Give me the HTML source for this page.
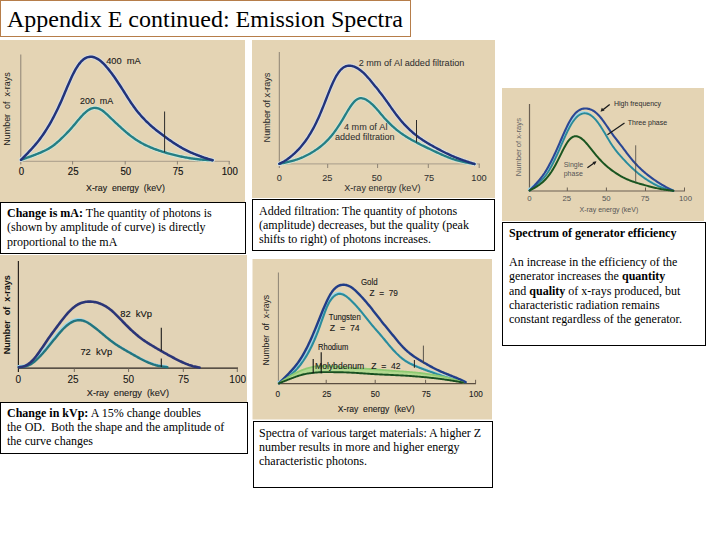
<!DOCTYPE html>
<html><head><meta charset="utf-8">
<style>
html,body{margin:0;padding:0;background:#fff;}
body{width:720px;height:540px;position:relative;overflow:hidden;font-family:"Liberation Serif",serif;}
#g{position:absolute;left:0;top:0;}
#g text{font-family:"Liberation Sans",sans-serif;}
.title{position:absolute;left:0;top:0;width:409px;height:35px;border:1px solid #b67d4a;background:#fff;}
.title span{position:absolute;left:6px;top:4px;font-size:24px;line-height:28px;color:#000;white-space:nowrap;}
.box{position:absolute;box-sizing:border-box;border:1.3px solid #000;background:#fff;font-size:12px;line-height:14.5px;color:#000;}
.box p{margin:0;position:absolute;left:6px;white-space:nowrap;}
</style></head><body>
<svg id="g" width="720" height="540" viewBox="0 0 720 540">
<rect x="0" y="40" width="245" height="162" fill="#e4d4b4"/>
<line x1="20.8" y1="54.5" x2="20.8" y2="161.5" stroke="#8c8274" stroke-width="1"/>
<line x1="20.8" y1="161.3" x2="229.5" y2="161.3" stroke="#a89c8a" stroke-width="1"/>
<line x1="20.8" y1="161" x2="20.8" y2="164.5" stroke="#8c8274" stroke-width="1"/>
<line x1="72.6" y1="161" x2="72.6" y2="164.5" stroke="#8c8274" stroke-width="1"/>
<line x1="125.2" y1="161" x2="125.2" y2="164.5" stroke="#8c8274" stroke-width="1"/>
<line x1="177.4" y1="161" x2="177.4" y2="164.5" stroke="#8c8274" stroke-width="1"/>
<line x1="229.2" y1="161" x2="229.2" y2="164.5" stroke="#8c8274" stroke-width="1"/>
<path d="M21.00,159.80 L22.00,159.45 L23.00,159.11 L24.00,158.76 L25.00,158.41 L26.00,158.06 L27.00,157.71 L28.00,157.35 L29.00,157.00 L30.00,156.64 L31.00,156.27 L32.00,155.91 L33.00,155.54 L34.00,155.16 L35.00,154.78 L36.00,154.40 L37.00,154.00 L38.00,153.60 L39.00,153.19 L40.00,152.78 L41.00,152.35 L42.00,151.91 L43.00,151.46 L44.00,151.00 L45.00,150.52 L46.00,150.02 L47.00,149.49 L48.00,148.94 L49.00,148.37 L50.00,147.76 L51.00,147.12 L52.00,146.44 L53.00,145.73 L54.00,144.98 L55.00,144.19 L56.00,143.38 L57.00,142.54 L58.00,141.67 L59.00,140.77 L60.00,139.85 L61.00,138.92 L62.00,137.96 L63.00,136.99 L64.00,136.00 L65.00,135.00 L66.00,133.98 L67.00,132.95 L68.00,131.89 L69.00,130.82 L70.00,129.73 L71.00,128.62 L72.00,127.48 L73.00,126.33 L74.00,125.15 L75.00,123.96 L76.00,122.75 L77.00,121.55 L78.00,120.35 L79.00,119.17 L80.00,118.00 L81.00,116.87 L82.00,115.77 L83.00,114.72 L84.00,113.72 L85.00,112.78 L86.00,111.90 L87.00,111.09 L88.00,110.36 L89.00,109.72 L90.00,109.16 L91.00,108.69 L92.00,108.33 L93.00,108.07 L94.00,107.92 L95.00,107.88 L96.00,107.94 L97.00,108.11 L98.00,108.38 L99.00,108.74 L100.00,109.20 L101.00,109.73 L102.00,110.35 L103.00,111.05 L104.00,111.82 L105.00,112.65 L106.00,113.54 L107.00,114.46 L108.00,115.40 L109.00,116.37 L110.00,117.33 L111.00,118.29 L112.00,119.25 L113.00,120.19 L114.00,121.14 L115.00,122.08 L116.00,123.01 L117.00,123.95 L118.00,124.88 L119.00,125.80 L120.00,126.72 L121.00,127.63 L122.00,128.54 L123.00,129.43 L124.00,130.32 L125.00,131.19 L126.00,132.05 L127.00,132.89 L128.00,133.72 L129.00,134.53 L130.00,135.32 L131.00,136.10 L132.00,136.85 L133.00,137.58 L134.00,138.30 L135.00,138.98 L136.00,139.65 L137.00,140.30 L138.00,140.93 L139.00,141.54 L140.00,142.13 L141.00,142.70 L142.00,143.26 L143.00,143.79 L144.00,144.32 L145.00,144.82 L146.00,145.31 L147.00,145.79 L148.00,146.25 L149.00,146.70 L150.00,147.13 L151.00,147.56 L152.00,147.97 L153.00,148.37 L154.00,148.76 L155.00,149.14 L156.00,149.50 L157.00,149.86 L158.00,150.21 L159.00,150.55 L160.00,150.89 L161.00,151.21 L162.00,151.53 L163.00,151.84 L164.00,152.15 L165.00,152.45 L166.00,152.74 L167.00,153.03 L168.00,153.32 L169.00,153.60 L170.00,153.87 L171.00,154.14 L172.00,154.40 L173.00,154.66 L174.00,154.91 L175.00,155.16 L176.00,155.40 L177.00,155.63 L178.00,155.86 L179.00,156.09 L180.00,156.31 L181.00,156.52 L182.00,156.73 L183.00,156.93 L184.00,157.13 L185.00,157.32 L186.00,157.51 L187.00,157.69 L188.00,157.86 L189.00,158.03 L190.00,158.20 L191.00,158.35 L192.00,158.51 L193.00,158.65 L194.00,158.79 L195.00,158.92 L196.00,159.04 L197.00,159.16 L198.00,159.27 L199.00,159.38 L200.00,159.47 L201.00,159.56 L202.00,159.64 L203.00,159.72 L204.00,159.78 L205.00,159.85 L206.00,159.90 L207.00,159.95 L208.00,160.00 L209.00,160.05 L210.00,160.09 L211.00,160.14 L212.00,160.18 L212.60,160.20" fill="none" stroke="#cfe6d8" stroke-width="4.2" stroke-linecap="round" stroke-linejoin="round" />
<path d="M21.00,159.80 L22.00,158.81 L23.00,157.82 L24.00,156.82 L25.00,155.82 L26.00,154.81 L27.00,153.79 L28.00,152.76 L29.00,151.72 L30.00,150.66 L31.00,149.59 L32.00,148.50 L33.00,147.38 L34.00,146.25 L35.00,145.09 L36.00,143.91 L37.00,142.70 L38.00,141.45 L39.00,140.18 L40.00,138.87 L41.00,137.52 L42.00,136.13 L43.00,134.71 L44.00,133.24 L45.00,131.73 L46.00,130.18 L47.00,128.59 L48.00,126.96 L49.00,125.28 L50.00,123.56 L51.00,121.79 L52.00,119.98 L53.00,118.13 L54.00,116.23 L55.00,114.28 L56.00,112.29 L57.00,110.25 L58.00,108.17 L59.00,106.05 L60.00,103.87 L61.00,101.65 L62.00,99.39 L63.00,97.08 L64.00,94.73 L65.00,92.36 L66.00,89.98 L67.00,87.60 L68.00,85.25 L69.00,82.92 L70.00,80.65 L71.00,78.44 L72.00,76.31 L73.00,74.27 L74.00,72.31 L75.00,70.46 L76.00,68.71 L77.00,67.07 L78.00,65.54 L79.00,64.14 L80.00,62.87 L81.00,61.73 L82.00,60.71 L83.00,59.82 L84.00,59.05 L85.00,58.40 L86.00,57.86 L87.00,57.43 L88.00,57.11 L89.00,56.89 L90.00,56.78 L91.00,56.76 L92.00,56.84 L93.00,57.01 L94.00,57.27 L95.00,57.61 L96.00,58.04 L97.00,58.55 L98.00,59.14 L99.00,59.80 L100.00,60.54 L101.00,61.34 L102.00,62.22 L103.00,63.16 L104.00,64.15 L105.00,65.20 L106.00,66.31 L107.00,67.46 L108.00,68.66 L109.00,69.90 L110.00,71.17 L111.00,72.48 L112.00,73.82 L113.00,75.19 L114.00,76.59 L115.00,78.02 L116.00,79.47 L117.00,80.94 L118.00,82.44 L119.00,83.96 L120.00,85.49 L121.00,87.04 L122.00,88.61 L123.00,90.19 L124.00,91.77 L125.00,93.36 L126.00,94.95 L127.00,96.53 L128.00,98.10 L129.00,99.65 L130.00,101.18 L131.00,102.69 L132.00,104.16 L133.00,105.59 L134.00,106.98 L135.00,108.33 L136.00,109.65 L137.00,110.93 L138.00,112.17 L139.00,113.38 L140.00,114.56 L141.00,115.71 L142.00,116.82 L143.00,117.91 L144.00,118.97 L145.00,120.00 L146.00,121.01 L147.00,122.00 L148.00,122.96 L149.00,123.89 L150.00,124.81 L151.00,125.71 L152.00,126.59 L153.00,127.45 L154.00,128.30 L155.00,129.12 L156.00,129.94 L157.00,130.74 L158.00,131.53 L159.00,132.31 L160.00,133.08 L161.00,133.84 L162.00,134.59 L163.00,135.33 L164.00,136.07 L165.00,136.80 L166.00,137.53 L167.00,138.25 L168.00,138.97 L169.00,139.68 L170.00,140.39 L171.00,141.08 L172.00,141.77 L173.00,142.45 L174.00,143.11 L175.00,143.77 L176.00,144.41 L177.00,145.04 L178.00,145.66 L179.00,146.27 L180.00,146.86 L181.00,147.44 L182.00,148.01 L183.00,148.57 L184.00,149.11 L185.00,149.63 L186.00,150.15 L187.00,150.65 L188.00,151.13 L189.00,151.61 L190.00,152.07 L191.00,152.52 L192.00,152.95 L193.00,153.38 L194.00,153.80 L195.00,154.21 L196.00,154.61 L197.00,155.01 L198.00,155.39 L199.00,155.77 L200.00,156.15 L201.00,156.51 L202.00,156.87 L203.00,157.22 L204.00,157.56 L205.00,157.89 L206.00,158.21 L207.00,158.52 L208.00,158.83 L209.00,159.14 L210.00,159.44 L211.00,159.73 L212.00,160.03 L212.60,160.20" fill="none" stroke="#d8dde0" stroke-width="4.4" stroke-linecap="round" stroke-linejoin="round" />
<path d="M21.00,159.80 L22.00,159.45 L23.00,159.11 L24.00,158.76 L25.00,158.41 L26.00,158.06 L27.00,157.71 L28.00,157.35 L29.00,157.00 L30.00,156.64 L31.00,156.27 L32.00,155.91 L33.00,155.54 L34.00,155.16 L35.00,154.78 L36.00,154.40 L37.00,154.00 L38.00,153.60 L39.00,153.19 L40.00,152.78 L41.00,152.35 L42.00,151.91 L43.00,151.46 L44.00,151.00 L45.00,150.52 L46.00,150.02 L47.00,149.49 L48.00,148.94 L49.00,148.37 L50.00,147.76 L51.00,147.12 L52.00,146.44 L53.00,145.73 L54.00,144.98 L55.00,144.19 L56.00,143.38 L57.00,142.54 L58.00,141.67 L59.00,140.77 L60.00,139.85 L61.00,138.92 L62.00,137.96 L63.00,136.99 L64.00,136.00 L65.00,135.00 L66.00,133.98 L67.00,132.95 L68.00,131.89 L69.00,130.82 L70.00,129.73 L71.00,128.62 L72.00,127.48 L73.00,126.33 L74.00,125.15 L75.00,123.96 L76.00,122.75 L77.00,121.55 L78.00,120.35 L79.00,119.17 L80.00,118.00 L81.00,116.87 L82.00,115.77 L83.00,114.72 L84.00,113.72 L85.00,112.78 L86.00,111.90 L87.00,111.09 L88.00,110.36 L89.00,109.72 L90.00,109.16 L91.00,108.69 L92.00,108.33 L93.00,108.07 L94.00,107.92 L95.00,107.88 L96.00,107.94 L97.00,108.11 L98.00,108.38 L99.00,108.74 L100.00,109.20 L101.00,109.73 L102.00,110.35 L103.00,111.05 L104.00,111.82 L105.00,112.65 L106.00,113.54 L107.00,114.46 L108.00,115.40 L109.00,116.37 L110.00,117.33 L111.00,118.29 L112.00,119.25 L113.00,120.19 L114.00,121.14 L115.00,122.08 L116.00,123.01 L117.00,123.95 L118.00,124.88 L119.00,125.80 L120.00,126.72 L121.00,127.63 L122.00,128.54 L123.00,129.43 L124.00,130.32 L125.00,131.19 L126.00,132.05 L127.00,132.89 L128.00,133.72 L129.00,134.53 L130.00,135.32 L131.00,136.10 L132.00,136.85 L133.00,137.58 L134.00,138.30 L135.00,138.98 L136.00,139.65 L137.00,140.30 L138.00,140.93 L139.00,141.54 L140.00,142.13 L141.00,142.70 L142.00,143.26 L143.00,143.79 L144.00,144.32 L145.00,144.82 L146.00,145.31 L147.00,145.79 L148.00,146.25 L149.00,146.70 L150.00,147.13 L151.00,147.56 L152.00,147.97 L153.00,148.37 L154.00,148.76 L155.00,149.14 L156.00,149.50 L157.00,149.86 L158.00,150.21 L159.00,150.55 L160.00,150.89 L161.00,151.21 L162.00,151.53 L163.00,151.84 L164.00,152.15 L165.00,152.45 L166.00,152.74 L167.00,153.03 L168.00,153.32 L169.00,153.60 L170.00,153.87 L171.00,154.14 L172.00,154.40 L173.00,154.66 L174.00,154.91 L175.00,155.16 L176.00,155.40 L177.00,155.63 L178.00,155.86 L179.00,156.09 L180.00,156.31 L181.00,156.52 L182.00,156.73 L183.00,156.93 L184.00,157.13 L185.00,157.32 L186.00,157.51 L187.00,157.69 L188.00,157.86 L189.00,158.03 L190.00,158.20 L191.00,158.35 L192.00,158.51 L193.00,158.65 L194.00,158.79 L195.00,158.92 L196.00,159.04 L197.00,159.16 L198.00,159.27 L199.00,159.38 L200.00,159.47 L201.00,159.56 L202.00,159.64 L203.00,159.72 L204.00,159.78 L205.00,159.85 L206.00,159.90 L207.00,159.95 L208.00,160.00 L209.00,160.05 L210.00,160.09 L211.00,160.14 L212.00,160.18 L212.60,160.20" fill="none" stroke="#257e84" stroke-width="2.4" stroke-linecap="round" stroke-linejoin="round" />
<path d="M21.00,159.80 L22.00,158.81 L23.00,157.82 L24.00,156.82 L25.00,155.82 L26.00,154.81 L27.00,153.79 L28.00,152.76 L29.00,151.72 L30.00,150.66 L31.00,149.59 L32.00,148.50 L33.00,147.38 L34.00,146.25 L35.00,145.09 L36.00,143.91 L37.00,142.70 L38.00,141.45 L39.00,140.18 L40.00,138.87 L41.00,137.52 L42.00,136.13 L43.00,134.71 L44.00,133.24 L45.00,131.73 L46.00,130.18 L47.00,128.59 L48.00,126.96 L49.00,125.28 L50.00,123.56 L51.00,121.79 L52.00,119.98 L53.00,118.13 L54.00,116.23 L55.00,114.28 L56.00,112.29 L57.00,110.25 L58.00,108.17 L59.00,106.05 L60.00,103.87 L61.00,101.65 L62.00,99.39 L63.00,97.08 L64.00,94.73 L65.00,92.36 L66.00,89.98 L67.00,87.60 L68.00,85.25 L69.00,82.92 L70.00,80.65 L71.00,78.44 L72.00,76.31 L73.00,74.27 L74.00,72.31 L75.00,70.46 L76.00,68.71 L77.00,67.07 L78.00,65.54 L79.00,64.14 L80.00,62.87 L81.00,61.73 L82.00,60.71 L83.00,59.82 L84.00,59.05 L85.00,58.40 L86.00,57.86 L87.00,57.43 L88.00,57.11 L89.00,56.89 L90.00,56.78 L91.00,56.76 L92.00,56.84 L93.00,57.01 L94.00,57.27 L95.00,57.61 L96.00,58.04 L97.00,58.55 L98.00,59.14 L99.00,59.80 L100.00,60.54 L101.00,61.34 L102.00,62.22 L103.00,63.16 L104.00,64.15 L105.00,65.20 L106.00,66.31 L107.00,67.46 L108.00,68.66 L109.00,69.90 L110.00,71.17 L111.00,72.48 L112.00,73.82 L113.00,75.19 L114.00,76.59 L115.00,78.02 L116.00,79.47 L117.00,80.94 L118.00,82.44 L119.00,83.96 L120.00,85.49 L121.00,87.04 L122.00,88.61 L123.00,90.19 L124.00,91.77 L125.00,93.36 L126.00,94.95 L127.00,96.53 L128.00,98.10 L129.00,99.65 L130.00,101.18 L131.00,102.69 L132.00,104.16 L133.00,105.59 L134.00,106.98 L135.00,108.33 L136.00,109.65 L137.00,110.93 L138.00,112.17 L139.00,113.38 L140.00,114.56 L141.00,115.71 L142.00,116.82 L143.00,117.91 L144.00,118.97 L145.00,120.00 L146.00,121.01 L147.00,122.00 L148.00,122.96 L149.00,123.89 L150.00,124.81 L151.00,125.71 L152.00,126.59 L153.00,127.45 L154.00,128.30 L155.00,129.12 L156.00,129.94 L157.00,130.74 L158.00,131.53 L159.00,132.31 L160.00,133.08 L161.00,133.84 L162.00,134.59 L163.00,135.33 L164.00,136.07 L165.00,136.80 L166.00,137.53 L167.00,138.25 L168.00,138.97 L169.00,139.68 L170.00,140.39 L171.00,141.08 L172.00,141.77 L173.00,142.45 L174.00,143.11 L175.00,143.77 L176.00,144.41 L177.00,145.04 L178.00,145.66 L179.00,146.27 L180.00,146.86 L181.00,147.44 L182.00,148.01 L183.00,148.57 L184.00,149.11 L185.00,149.63 L186.00,150.15 L187.00,150.65 L188.00,151.13 L189.00,151.61 L190.00,152.07 L191.00,152.52 L192.00,152.95 L193.00,153.38 L194.00,153.80 L195.00,154.21 L196.00,154.61 L197.00,155.01 L198.00,155.39 L199.00,155.77 L200.00,156.15 L201.00,156.51 L202.00,156.87 L203.00,157.22 L204.00,157.56 L205.00,157.89 L206.00,158.21 L207.00,158.52 L208.00,158.83 L209.00,159.14 L210.00,159.44 L211.00,159.73 L212.00,160.03 L212.60,160.20" fill="none" stroke="#22337a" stroke-width="2.5" stroke-linecap="round" stroke-linejoin="round" />
<line x1="164.6" y1="111.5" x2="164.6" y2="152.3" stroke="#2a2a2a" stroke-width="1"/>
<text transform="translate(106.2,63.8) scale(0.97,1)" x="0" y="0" font-size="9.6" text-anchor="start" fill="#1a1a1a" stroke="#1a1a1a" stroke-width="0.12" >400&#160;&#160;mA</text>
<text transform="translate(80,103.8) scale(0.97,1)" x="0" y="0" font-size="9.2" text-anchor="start" fill="#1a1a1a" stroke="#1a1a1a" stroke-width="0.12" >200&#160;&#160;mA</text>
<text transform="translate(21.400000000000002,175.0) scale(0.93,1)" x="0" y="0" font-size="10.4" text-anchor="middle" fill="#111" stroke="#111" stroke-width="0.15" >0</text>
<text transform="translate(73.19999999999999,175.0) scale(0.93,1)" x="0" y="0" font-size="10.4" text-anchor="middle" fill="#111" stroke="#111" stroke-width="0.15" >25</text>
<text transform="translate(125.8,175.0) scale(0.93,1)" x="0" y="0" font-size="10.4" text-anchor="middle" fill="#111" stroke="#111" stroke-width="0.15" >50</text>
<text transform="translate(178.0,175.0) scale(0.93,1)" x="0" y="0" font-size="10.4" text-anchor="middle" fill="#111" stroke="#111" stroke-width="0.15" >75</text>
<text transform="translate(229.79999999999998,175.0) scale(0.93,1)" x="0" y="0" font-size="10.4" text-anchor="middle" fill="#111" stroke="#111" stroke-width="0.15" >100</text>
<text transform="translate(86,191.3) scale(0.96,1)" x="0" y="0" font-size="9.2" text-anchor="start" fill="#1a1a1a" stroke="#1a1a1a" stroke-width="0.12" >X-ray&#160;&#160;energy&#160;&#160;(keV)</text>
<text transform="translate(6.8,109) rotate(-90) scale(0.97,1)" x="0" y="0" font-size="9.2" text-anchor="middle" dominant-baseline="central" fill="#1a1a1a"  >Number&#160;&#160;of&#160;&#160;x-rays</text>
<rect x="252" y="40" width="243" height="158" fill="#e4d4b4"/>
<line x1="279.3" y1="52" x2="279.3" y2="164" stroke="#8c8274" stroke-width="1"/>
<line x1="279.3" y1="163.9" x2="480" y2="163.9" stroke="#a89c8a" stroke-width="1"/>
<line x1="279.3" y1="164" x2="279.3" y2="168" stroke="#8c8274" stroke-width="1"/>
<line x1="327.7" y1="164" x2="327.7" y2="168" stroke="#8c8274" stroke-width="1"/>
<line x1="377.6" y1="164" x2="377.6" y2="168" stroke="#8c8274" stroke-width="1"/>
<line x1="428.3" y1="164" x2="428.3" y2="168" stroke="#8c8274" stroke-width="1"/>
<line x1="479.2" y1="164" x2="479.2" y2="168" stroke="#8c8274" stroke-width="1"/>
<path d="M279.30,163.80 L280.30,163.61 L281.30,163.42 L282.30,163.22 L283.30,163.03 L284.30,162.82 L285.30,162.61 L286.30,162.40 L287.30,162.17 L288.30,161.94 L289.30,161.70 L290.30,161.44 L291.30,161.17 L292.30,160.89 L293.30,160.60 L294.30,160.30 L295.30,159.99 L296.30,159.66 L297.30,159.33 L298.30,158.97 L299.30,158.61 L300.30,158.22 L301.30,157.82 L302.30,157.40 L303.30,156.97 L304.30,156.51 L305.30,156.04 L306.30,155.55 L307.30,155.04 L308.30,154.52 L309.30,153.97 L310.30,153.41 L311.30,152.83 L312.30,152.23 L313.30,151.61 L314.30,150.98 L315.30,150.32 L316.30,149.65 L317.30,148.95 L318.30,148.24 L319.30,147.50 L320.30,146.73 L321.30,145.93 L322.30,145.10 L323.30,144.24 L324.30,143.34 L325.30,142.40 L326.30,141.43 L327.30,140.42 L328.30,139.37 L329.30,138.27 L330.30,137.13 L331.30,135.95 L332.30,134.73 L333.30,133.47 L334.30,132.15 L335.30,130.80 L336.30,129.39 L337.30,127.95 L338.30,126.45 L339.30,124.92 L340.30,123.34 L341.30,121.73 L342.30,120.07 L343.30,118.38 L344.30,116.67 L345.30,114.94 L346.30,113.23 L347.30,111.53 L348.30,109.88 L349.30,108.27 L350.30,106.74 L351.30,105.29 L352.30,103.95 L353.30,102.72 L354.30,101.62 L355.30,100.67 L356.30,99.87 L357.30,99.23 L358.30,98.74 L359.30,98.40 L360.30,98.22 L361.30,98.18 L362.30,98.28 L363.30,98.51 L364.30,98.85 L365.30,99.30 L366.30,99.83 L367.30,100.45 L368.30,101.14 L369.30,101.89 L370.30,102.69 L371.30,103.53 L372.30,104.43 L373.30,105.38 L374.30,106.38 L375.30,107.44 L376.30,108.54 L377.30,109.68 L378.30,110.84 L379.30,112.03 L380.30,113.23 L381.30,114.42 L382.30,115.60 L383.30,116.76 L384.30,117.90 L385.30,119.01 L386.30,120.09 L387.30,121.14 L388.30,122.17 L389.30,123.18 L390.30,124.16 L391.30,125.12 L392.30,126.05 L393.30,126.95 L394.30,127.83 L395.30,128.69 L396.30,129.53 L397.30,130.34 L398.30,131.12 L399.30,131.89 L400.30,132.63 L401.30,133.35 L402.30,134.05 L403.30,134.73 L404.30,135.40 L405.30,136.05 L406.30,136.68 L407.30,137.30 L408.30,137.90 L409.30,138.49 L410.30,139.07 L411.30,139.64 L412.30,140.19 L413.30,140.74 L414.30,141.28 L415.30,141.81 L416.30,142.34 L417.30,142.86 L418.30,143.38 L419.30,143.89 L420.30,144.40 L421.30,144.91 L422.30,145.41 L423.30,145.90 L424.30,146.40 L425.30,146.89 L426.30,147.38 L427.30,147.86 L428.30,148.34 L429.30,148.82 L430.30,149.30 L431.30,149.77 L432.30,150.25 L433.30,150.72 L434.30,151.19 L435.30,151.66 L436.30,152.13 L437.30,152.59 L438.30,153.05 L439.30,153.51 L440.30,153.96 L441.30,154.41 L442.30,154.85 L443.30,155.29 L444.30,155.72 L445.30,156.14 L446.30,156.55 L447.30,156.96 L448.30,157.36 L449.30,157.74 L450.30,158.12 L451.30,158.48 L452.30,158.84 L453.30,159.18 L454.30,159.51 L455.30,159.82 L456.30,160.12 L457.30,160.41 L458.30,160.68 L459.30,160.95 L460.30,161.20 L461.30,161.44 L462.30,161.67 L463.30,161.89 L464.30,162.11 L465.30,162.32 L466.30,162.52 L467.30,162.71 L468.30,162.90 L469.30,163.09 L470.30,163.27 L471.30,163.44 L472.30,163.62 L473.30,163.79 L474.30,163.97 L474.50,164.00" fill="none" stroke="#cfe6d8" stroke-width="4.0" stroke-linecap="round" stroke-linejoin="round" />
<path d="M279.30,163.81 L280.30,163.31 L281.30,162.81 L282.30,162.29 L283.30,161.75 L284.30,161.18 L285.30,160.58 L286.30,159.94 L287.30,159.26 L288.30,158.53 L289.30,157.78 L290.30,156.99 L291.30,156.17 L292.30,155.33 L293.30,154.46 L294.30,153.57 L295.30,152.64 L296.30,151.69 L297.30,150.69 L298.30,149.66 L299.30,148.58 L300.30,147.46 L301.30,146.30 L302.30,145.09 L303.30,143.83 L304.30,142.53 L305.30,141.18 L306.30,139.77 L307.30,138.31 L308.30,136.80 L309.30,135.23 L310.30,133.61 L311.30,131.92 L312.30,130.16 L313.30,128.34 L314.30,126.45 L315.30,124.49 L316.30,122.46 L317.30,120.35 L318.30,118.17 L319.30,115.93 L320.30,113.62 L321.30,111.25 L322.30,108.82 L323.30,106.34 L324.30,103.83 L325.30,101.28 L326.30,98.72 L327.30,96.15 L328.30,93.59 L329.30,91.08 L330.30,88.62 L331.30,86.24 L332.30,83.95 L333.30,81.77 L334.30,79.70 L335.30,77.76 L336.30,75.95 L337.30,74.30 L338.30,72.80 L339.30,71.46 L340.30,70.27 L341.30,69.23 L342.30,68.34 L343.30,67.60 L344.30,66.98 L345.30,66.50 L346.30,66.13 L347.30,65.87 L348.30,65.72 L349.30,65.66 L350.30,65.70 L351.30,65.83 L352.30,66.03 L353.30,66.32 L354.30,66.67 L355.30,67.09 L356.30,67.58 L357.30,68.14 L358.30,68.75 L359.30,69.43 L360.30,70.17 L361.30,70.97 L362.30,71.82 L363.30,72.73 L364.30,73.69 L365.30,74.69 L366.30,75.73 L367.30,76.81 L368.30,77.93 L369.30,79.08 L370.30,80.26 L371.30,81.46 L372.30,82.68 L373.30,83.90 L374.30,85.14 L375.30,86.38 L376.30,87.62 L377.30,88.87 L378.30,90.12 L379.30,91.38 L380.30,92.66 L381.30,93.95 L382.30,95.27 L383.30,96.60 L384.30,97.96 L385.30,99.34 L386.30,100.74 L387.30,102.15 L388.30,103.56 L389.30,104.98 L390.30,106.40 L391.30,107.82 L392.30,109.23 L393.30,110.62 L394.30,112.00 L395.30,113.37 L396.30,114.70 L397.30,116.02 L398.30,117.30 L399.30,118.54 L400.30,119.76 L401.30,120.95 L402.30,122.10 L403.30,123.23 L404.30,124.33 L405.30,125.39 L406.30,126.43 L407.30,127.45 L408.30,128.43 L409.30,129.39 L410.30,130.32 L411.30,131.23 L412.30,132.12 L413.30,132.98 L414.30,133.81 L415.30,134.63 L416.30,135.42 L417.30,136.19 L418.30,136.94 L419.30,137.67 L420.30,138.38 L421.30,139.08 L422.30,139.75 L423.30,140.41 L424.30,141.06 L425.30,141.69 L426.30,142.31 L427.30,142.92 L428.30,143.52 L429.30,144.11 L430.30,144.69 L431.30,145.26 L432.30,145.83 L433.30,146.39 L434.30,146.94 L435.30,147.49 L436.30,148.04 L437.30,148.58 L438.30,149.12 L439.30,149.65 L440.30,150.17 L441.30,150.69 L442.30,151.21 L443.30,151.72 L444.30,152.22 L445.30,152.72 L446.30,153.21 L447.30,153.69 L448.30,154.16 L449.30,154.63 L450.30,155.09 L451.30,155.54 L452.30,155.98 L453.30,156.41 L454.30,156.84 L455.30,157.26 L456.30,157.66 L457.30,158.06 L458.30,158.45 L459.30,158.83 L460.30,159.21 L461.30,159.57 L462.30,159.93 L463.30,160.29 L464.30,160.64 L465.30,160.98 L466.30,161.32 L467.30,161.66 L468.30,161.99 L469.30,162.32 L470.30,162.65 L471.30,162.97 L472.30,163.29 L473.30,163.61 L474.30,163.94 L474.50,164.00" fill="none" stroke="#d8dde0" stroke-width="4.2" stroke-linecap="round" stroke-linejoin="round" />
<path d="M279.30,163.80 L280.30,163.61 L281.30,163.42 L282.30,163.22 L283.30,163.03 L284.30,162.82 L285.30,162.61 L286.30,162.40 L287.30,162.17 L288.30,161.94 L289.30,161.70 L290.30,161.44 L291.30,161.17 L292.30,160.89 L293.30,160.60 L294.30,160.30 L295.30,159.99 L296.30,159.66 L297.30,159.33 L298.30,158.97 L299.30,158.61 L300.30,158.22 L301.30,157.82 L302.30,157.40 L303.30,156.97 L304.30,156.51 L305.30,156.04 L306.30,155.55 L307.30,155.04 L308.30,154.52 L309.30,153.97 L310.30,153.41 L311.30,152.83 L312.30,152.23 L313.30,151.61 L314.30,150.98 L315.30,150.32 L316.30,149.65 L317.30,148.95 L318.30,148.24 L319.30,147.50 L320.30,146.73 L321.30,145.93 L322.30,145.10 L323.30,144.24 L324.30,143.34 L325.30,142.40 L326.30,141.43 L327.30,140.42 L328.30,139.37 L329.30,138.27 L330.30,137.13 L331.30,135.95 L332.30,134.73 L333.30,133.47 L334.30,132.15 L335.30,130.80 L336.30,129.39 L337.30,127.95 L338.30,126.45 L339.30,124.92 L340.30,123.34 L341.30,121.73 L342.30,120.07 L343.30,118.38 L344.30,116.67 L345.30,114.94 L346.30,113.23 L347.30,111.53 L348.30,109.88 L349.30,108.27 L350.30,106.74 L351.30,105.29 L352.30,103.95 L353.30,102.72 L354.30,101.62 L355.30,100.67 L356.30,99.87 L357.30,99.23 L358.30,98.74 L359.30,98.40 L360.30,98.22 L361.30,98.18 L362.30,98.28 L363.30,98.51 L364.30,98.85 L365.30,99.30 L366.30,99.83 L367.30,100.45 L368.30,101.14 L369.30,101.89 L370.30,102.69 L371.30,103.53 L372.30,104.43 L373.30,105.38 L374.30,106.38 L375.30,107.44 L376.30,108.54 L377.30,109.68 L378.30,110.84 L379.30,112.03 L380.30,113.23 L381.30,114.42 L382.30,115.60 L383.30,116.76 L384.30,117.90 L385.30,119.01 L386.30,120.09 L387.30,121.14 L388.30,122.17 L389.30,123.18 L390.30,124.16 L391.30,125.12 L392.30,126.05 L393.30,126.95 L394.30,127.83 L395.30,128.69 L396.30,129.53 L397.30,130.34 L398.30,131.12 L399.30,131.89 L400.30,132.63 L401.30,133.35 L402.30,134.05 L403.30,134.73 L404.30,135.40 L405.30,136.05 L406.30,136.68 L407.30,137.30 L408.30,137.90 L409.30,138.49 L410.30,139.07 L411.30,139.64 L412.30,140.19 L413.30,140.74 L414.30,141.28 L415.30,141.81 L416.30,142.34 L417.30,142.86 L418.30,143.38 L419.30,143.89 L420.30,144.40 L421.30,144.91 L422.30,145.41 L423.30,145.90 L424.30,146.40 L425.30,146.89 L426.30,147.38 L427.30,147.86 L428.30,148.34 L429.30,148.82 L430.30,149.30 L431.30,149.77 L432.30,150.25 L433.30,150.72 L434.30,151.19 L435.30,151.66 L436.30,152.13 L437.30,152.59 L438.30,153.05 L439.30,153.51 L440.30,153.96 L441.30,154.41 L442.30,154.85 L443.30,155.29 L444.30,155.72 L445.30,156.14 L446.30,156.55 L447.30,156.96 L448.30,157.36 L449.30,157.74 L450.30,158.12 L451.30,158.48 L452.30,158.84 L453.30,159.18 L454.30,159.51 L455.30,159.82 L456.30,160.12 L457.30,160.41 L458.30,160.68 L459.30,160.95 L460.30,161.20 L461.30,161.44 L462.30,161.67 L463.30,161.89 L464.30,162.11 L465.30,162.32 L466.30,162.52 L467.30,162.71 L468.30,162.90 L469.30,163.09 L470.30,163.27 L471.30,163.44 L472.30,163.62 L473.30,163.79 L474.30,163.97 L474.50,164.00" fill="none" stroke="#257e84" stroke-width="2.3" stroke-linecap="round" stroke-linejoin="round" />
<path d="M279.30,163.81 L280.30,163.31 L281.30,162.81 L282.30,162.29 L283.30,161.75 L284.30,161.18 L285.30,160.58 L286.30,159.94 L287.30,159.26 L288.30,158.53 L289.30,157.78 L290.30,156.99 L291.30,156.17 L292.30,155.33 L293.30,154.46 L294.30,153.57 L295.30,152.64 L296.30,151.69 L297.30,150.69 L298.30,149.66 L299.30,148.58 L300.30,147.46 L301.30,146.30 L302.30,145.09 L303.30,143.83 L304.30,142.53 L305.30,141.18 L306.30,139.77 L307.30,138.31 L308.30,136.80 L309.30,135.23 L310.30,133.61 L311.30,131.92 L312.30,130.16 L313.30,128.34 L314.30,126.45 L315.30,124.49 L316.30,122.46 L317.30,120.35 L318.30,118.17 L319.30,115.93 L320.30,113.62 L321.30,111.25 L322.30,108.82 L323.30,106.34 L324.30,103.83 L325.30,101.28 L326.30,98.72 L327.30,96.15 L328.30,93.59 L329.30,91.08 L330.30,88.62 L331.30,86.24 L332.30,83.95 L333.30,81.77 L334.30,79.70 L335.30,77.76 L336.30,75.95 L337.30,74.30 L338.30,72.80 L339.30,71.46 L340.30,70.27 L341.30,69.23 L342.30,68.34 L343.30,67.60 L344.30,66.98 L345.30,66.50 L346.30,66.13 L347.30,65.87 L348.30,65.72 L349.30,65.66 L350.30,65.70 L351.30,65.83 L352.30,66.03 L353.30,66.32 L354.30,66.67 L355.30,67.09 L356.30,67.58 L357.30,68.14 L358.30,68.75 L359.30,69.43 L360.30,70.17 L361.30,70.97 L362.30,71.82 L363.30,72.73 L364.30,73.69 L365.30,74.69 L366.30,75.73 L367.30,76.81 L368.30,77.93 L369.30,79.08 L370.30,80.26 L371.30,81.46 L372.30,82.68 L373.30,83.90 L374.30,85.14 L375.30,86.38 L376.30,87.62 L377.30,88.87 L378.30,90.12 L379.30,91.38 L380.30,92.66 L381.30,93.95 L382.30,95.27 L383.30,96.60 L384.30,97.96 L385.30,99.34 L386.30,100.74 L387.30,102.15 L388.30,103.56 L389.30,104.98 L390.30,106.40 L391.30,107.82 L392.30,109.23 L393.30,110.62 L394.30,112.00 L395.30,113.37 L396.30,114.70 L397.30,116.02 L398.30,117.30 L399.30,118.54 L400.30,119.76 L401.30,120.95 L402.30,122.10 L403.30,123.23 L404.30,124.33 L405.30,125.39 L406.30,126.43 L407.30,127.45 L408.30,128.43 L409.30,129.39 L410.30,130.32 L411.30,131.23 L412.30,132.12 L413.30,132.98 L414.30,133.81 L415.30,134.63 L416.30,135.42 L417.30,136.19 L418.30,136.94 L419.30,137.67 L420.30,138.38 L421.30,139.08 L422.30,139.75 L423.30,140.41 L424.30,141.06 L425.30,141.69 L426.30,142.31 L427.30,142.92 L428.30,143.52 L429.30,144.11 L430.30,144.69 L431.30,145.26 L432.30,145.83 L433.30,146.39 L434.30,146.94 L435.30,147.49 L436.30,148.04 L437.30,148.58 L438.30,149.12 L439.30,149.65 L440.30,150.17 L441.30,150.69 L442.30,151.21 L443.30,151.72 L444.30,152.22 L445.30,152.72 L446.30,153.21 L447.30,153.69 L448.30,154.16 L449.30,154.63 L450.30,155.09 L451.30,155.54 L452.30,155.98 L453.30,156.41 L454.30,156.84 L455.30,157.26 L456.30,157.66 L457.30,158.06 L458.30,158.45 L459.30,158.83 L460.30,159.21 L461.30,159.57 L462.30,159.93 L463.30,160.29 L464.30,160.64 L465.30,160.98 L466.30,161.32 L467.30,161.66 L468.30,161.99 L469.30,162.32 L470.30,162.65 L471.30,162.97 L472.30,163.29 L473.30,163.61 L474.30,163.94 L474.50,164.00" fill="none" stroke="#22337a" stroke-width="2.4" stroke-linecap="round" stroke-linejoin="round" />
<line x1="416.5" y1="120" x2="416.5" y2="142.4" stroke="#2a2a2a" stroke-width="1"/>
<text transform="translate(358.7,66.4) scale(1.0,1)" x="0" y="0" font-size="9.1" text-anchor="start" fill="#303030" stroke="#303030" stroke-width="0.05" >2&#160;mm&#160;of&#160;Al&#160;added&#160;filtration</text>
<text transform="translate(344,129.8) scale(1.0,1)" x="0" y="0" font-size="9.1" text-anchor="start" fill="#303030" stroke="#303030" stroke-width="0.05" >4&#160;mm&#160;of&#160;Al</text>
<text transform="translate(335,140.4) scale(1.0,1)" x="0" y="0" font-size="9.1" text-anchor="start" fill="#303030" stroke="#303030" stroke-width="0.05" >added&#160;filtration</text>
<text transform="translate(279.4,180.8) scale(1.0,1)" x="0" y="0" font-size="9.2" text-anchor="middle" fill="#303030" stroke="#303030" stroke-width="0.05" >0</text>
<text transform="translate(327.3,180.8) scale(1.0,1)" x="0" y="0" font-size="9.2" text-anchor="middle" fill="#303030" stroke="#303030" stroke-width="0.05" >25</text>
<text transform="translate(376.8,180.8) scale(1.0,1)" x="0" y="0" font-size="9.2" text-anchor="middle" fill="#303030" stroke="#303030" stroke-width="0.05" >50</text>
<text transform="translate(429,180.8) scale(1.0,1)" x="0" y="0" font-size="9.2" text-anchor="middle" fill="#303030" stroke="#303030" stroke-width="0.05" >75</text>
<text transform="translate(479,180.8) scale(1.0,1)" x="0" y="0" font-size="9.2" text-anchor="middle" fill="#303030" stroke="#303030" stroke-width="0.05" >100</text>
<text transform="translate(344.2,191.3) scale(1.0,1)" x="0" y="0" font-size="9.1" text-anchor="start" fill="#303030" stroke="#303030" stroke-width="0.05" >X-ray&#160;energy&#160;(keV)</text>
<text transform="translate(266.8,107.5) rotate(-90) scale(1.0,1)" x="0" y="0" font-size="9.1" text-anchor="middle" dominant-baseline="central" fill="#303030" stroke="#303030" stroke-width="0.05" >Number&#160;of&#160;x-rays</text>
<rect x="502" y="88" width="202" height="133" fill="#e4d4b4"/>
<line x1="529.5" y1="104" x2="529.5" y2="191" stroke="#6a5f52" stroke-width="1.2"/>
<line x1="529.5" y1="191" x2="685" y2="191" stroke="#6a5f52" stroke-width="1.2"/>
<line x1="567.3" y1="187.5" x2="567.3" y2="191" stroke="#6a5f52" stroke-width="1"/>
<line x1="606.4" y1="187.5" x2="606.4" y2="191" stroke="#6a5f52" stroke-width="1"/>
<line x1="645.5" y1="187.5" x2="645.5" y2="191" stroke="#6a5f52" stroke-width="1"/>
<line x1="684.5" y1="187.5" x2="684.5" y2="191" stroke="#6a5f52" stroke-width="1"/>
<path d="M528.60,189.20 L529.60,188.44 L530.60,187.67 L531.60,186.89 L532.60,186.10 L533.60,185.30 L534.60,184.47 L535.60,183.63 L536.60,182.76 L537.60,181.86 L538.60,180.93 L539.60,179.95 L540.60,178.94 L541.60,177.88 L542.60,176.75 L543.60,175.56 L544.60,174.29 L545.60,172.92 L546.60,171.46 L547.60,169.90 L548.60,168.24 L549.60,166.49 L550.60,164.66 L551.60,162.75 L552.60,160.76 L553.60,158.72 L554.60,156.61 L555.60,154.45 L556.60,152.24 L557.60,150.00 L558.60,147.73 L559.60,145.43 L560.60,143.12 L561.60,140.83 L562.60,138.55 L563.60,136.30 L564.60,134.10 L565.60,131.97 L566.60,129.90 L567.60,127.91 L568.60,126.01 L569.60,124.22 L570.60,122.53 L571.60,120.96 L572.60,119.51 L573.60,118.19 L574.60,116.99 L575.60,115.92 L576.60,114.99 L577.60,114.19 L578.60,113.52 L579.60,112.98 L580.60,112.56 L581.60,112.26 L582.60,112.08 L583.60,112.01 L584.60,112.05 L585.60,112.20 L586.60,112.46 L587.60,112.83 L588.60,113.30 L589.60,113.89 L590.60,114.58 L591.60,115.38 L592.60,116.28 L593.60,117.28 L594.60,118.38 L595.60,119.56 L596.60,120.83 L597.60,122.18 L598.60,123.60 L599.60,125.09 L600.60,126.64 L601.60,128.23 L602.60,129.87 L603.60,131.54 L604.60,133.23 L605.60,134.93 L606.60,136.63 L607.60,138.32 L608.60,139.98 L609.60,141.60 L610.60,143.16 L611.60,144.66 L612.60,146.10 L613.60,147.48 L614.60,148.80 L615.60,150.07 L616.60,151.29 L617.60,152.48 L618.60,153.63 L619.60,154.77 L620.60,155.89 L621.60,156.99 L622.60,158.08 L623.60,159.15 L624.60,160.21 L625.60,161.25 L626.60,162.27 L627.60,163.28 L628.60,164.28 L629.60,165.26 L630.60,166.22 L631.60,167.16 L632.60,168.09 L633.60,168.99 L634.60,169.88 L635.60,170.74 L636.60,171.57 L637.60,172.39 L638.60,173.18 L639.60,173.96 L640.60,174.71 L641.60,175.46 L642.60,176.18 L643.60,176.89 L644.60,177.59 L645.60,178.26 L646.60,178.92 L647.60,179.57 L648.60,180.19 L649.60,180.80 L650.60,181.39 L651.60,181.96 L652.60,182.51 L653.60,183.04 L654.60,183.55 L655.60,184.04 L656.60,184.51 L657.60,184.96 L658.60,185.39 L659.60,185.79 L660.60,186.18 L661.60,186.55 L662.60,186.90 L663.60,187.23 L664.60,187.54 L665.60,187.84 L666.60,188.11 L667.60,188.38 L668.60,188.63 L669.60,188.87 L670.60,189.11 L671.60,189.34 L672.30,189.50" fill="none" stroke="#9ad6ec" stroke-width="1.6" stroke-linecap="round" stroke-linejoin="round" />
<path d="M529.60,190.50 L530.60,189.74 L531.60,188.97 L532.60,188.19 L533.60,187.40 L534.60,186.60 L535.60,185.77 L536.60,184.93 L537.60,184.06 L538.60,183.16 L539.60,182.23 L540.60,181.25 L541.60,180.24 L542.60,179.18 L543.60,178.05 L544.60,176.86 L545.60,175.59 L546.60,174.22 L547.60,172.76 L548.60,171.20 L549.60,169.54 L550.60,167.79 L551.60,165.96 L552.60,164.05 L553.60,162.06 L554.60,160.02 L555.60,157.91 L556.60,155.75 L557.60,153.54 L558.60,151.30 L559.60,149.03 L560.60,146.73 L561.60,144.42 L562.60,142.13 L563.60,139.85 L564.60,137.60 L565.60,135.40 L566.60,133.27 L567.60,131.20 L568.60,129.21 L569.60,127.31 L570.60,125.52 L571.60,123.83 L572.60,122.26 L573.60,120.81 L574.60,119.49 L575.60,118.29 L576.60,117.22 L577.60,116.29 L578.60,115.49 L579.60,114.82 L580.60,114.28 L581.60,113.86 L582.60,113.56 L583.60,113.38 L584.60,113.31 L585.60,113.35 L586.60,113.50 L587.60,113.76 L588.60,114.13 L589.60,114.60 L590.60,115.19 L591.60,115.88 L592.60,116.68 L593.60,117.58 L594.60,118.58 L595.60,119.68 L596.60,120.86 L597.60,122.13 L598.60,123.48 L599.60,124.90 L600.60,126.39 L601.60,127.94 L602.60,129.53 L603.60,131.17 L604.60,132.84 L605.60,134.53 L606.60,136.23 L607.60,137.93 L608.60,139.62 L609.60,141.28 L610.60,142.90 L611.60,144.46 L612.60,145.96 L613.60,147.40 L614.60,148.78 L615.60,150.10 L616.60,151.37 L617.60,152.59 L618.60,153.78 L619.60,154.93 L620.60,156.07 L621.60,157.19 L622.60,158.29 L623.60,159.38 L624.60,160.45 L625.60,161.51 L626.60,162.55 L627.60,163.57 L628.60,164.58 L629.60,165.58 L630.60,166.56 L631.60,167.52 L632.60,168.46 L633.60,169.39 L634.60,170.29 L635.60,171.18 L636.60,172.04 L637.60,172.87 L638.60,173.69 L639.60,174.48 L640.60,175.26 L641.60,176.01 L642.60,176.76 L643.60,177.48 L644.60,178.19 L645.60,178.89 L646.60,179.56 L647.60,180.22 L648.60,180.87 L649.60,181.49 L650.60,182.10 L651.60,182.69 L652.60,183.26 L653.60,183.81 L654.60,184.34 L655.60,184.85 L656.60,185.34 L657.60,185.81 L658.60,186.26 L659.60,186.69 L660.60,187.09 L661.60,187.48 L662.60,187.85 L663.60,188.20 L664.60,188.53 L665.60,188.84 L666.60,189.14 L667.60,189.41 L668.60,189.68 L669.60,189.93 L670.60,190.17 L671.60,190.41 L672.60,190.64 L673.30,190.80" fill="none" stroke="#2b8a98" stroke-width="1.9" stroke-linecap="round" stroke-linejoin="round" />
<path d="M529.60,190.50 L530.60,189.49 L531.60,188.47 L532.60,187.45 L533.60,186.41 L534.60,185.36 L535.60,184.29 L536.60,183.20 L537.60,182.07 L538.60,180.92 L539.60,179.73 L540.60,178.50 L541.60,177.22 L542.60,175.88 L543.60,174.47 L544.60,172.98 L545.60,171.41 L546.60,169.75 L547.60,168.03 L548.60,166.23 L549.60,164.37 L550.60,162.45 L551.60,160.48 L552.60,158.45 L553.60,156.37 L554.60,154.25 L555.60,152.08 L556.60,149.87 L557.60,147.63 L558.60,145.36 L559.60,143.07 L560.60,140.77 L561.60,138.47 L562.60,136.17 L563.60,133.90 L564.60,131.65 L565.60,129.46 L566.60,127.33 L567.60,125.29 L568.60,123.34 L569.60,121.50 L570.60,119.77 L571.60,118.16 L572.60,116.68 L573.60,115.33 L574.60,114.11 L575.60,113.02 L576.60,112.07 L577.60,111.24 L578.60,110.53 L579.60,109.93 L580.60,109.45 L581.60,109.07 L582.60,108.78 L583.60,108.59 L584.60,108.49 L585.60,108.47 L586.60,108.53 L587.60,108.66 L588.60,108.85 L589.60,109.13 L590.60,109.47 L591.60,109.90 L592.60,110.40 L593.60,110.99 L594.60,111.67 L595.60,112.43 L596.60,113.28 L597.60,114.22 L598.60,115.23 L599.60,116.33 L600.60,117.49 L601.60,118.73 L602.60,120.04 L603.60,121.40 L604.60,122.81 L605.60,124.26 L606.60,125.73 L607.60,127.20 L608.60,128.68 L609.60,130.14 L610.60,131.58 L611.60,133.00 L612.60,134.39 L613.60,135.76 L614.60,137.11 L615.60,138.43 L616.60,139.73 L617.60,141.01 L618.60,142.27 L619.60,143.54 L620.60,144.82 L621.60,146.12 L622.60,147.44 L623.60,148.77 L624.60,150.11 L625.60,151.45 L626.60,152.79 L627.60,154.10 L628.60,155.40 L629.60,156.67 L630.60,157.92 L631.60,159.14 L632.60,160.34 L633.60,161.51 L634.60,162.64 L635.60,163.75 L636.60,164.82 L637.60,165.87 L638.60,166.88 L639.60,167.86 L640.60,168.82 L641.60,169.75 L642.60,170.65 L643.60,171.53 L644.60,172.39 L645.60,173.23 L646.60,174.05 L647.60,174.85 L648.60,175.64 L649.60,176.40 L650.60,177.15 L651.60,177.89 L652.60,178.61 L653.60,179.32 L654.60,180.01 L655.60,180.69 L656.60,181.36 L657.60,182.02 L658.60,182.66 L659.60,183.30 L660.60,183.92 L661.60,184.53 L662.60,185.12 L663.60,185.71 L664.60,186.28 L665.60,186.84 L666.60,187.38 L667.60,187.92 L668.60,188.44 L669.60,188.95 L670.60,189.46 L671.60,189.96 L672.60,190.46 L673.30,190.80" fill="none" stroke="#2b4794" stroke-width="2.1" stroke-linecap="round" stroke-linejoin="round" />
<path d="M529.60,190.51 L530.60,189.98 L531.60,189.45 L532.60,188.92 L533.60,188.37 L534.60,187.80 L535.60,187.22 L536.60,186.60 L537.60,185.96 L538.60,185.28 L539.60,184.57 L540.60,183.81 L541.60,183.00 L542.60,182.15 L543.60,181.23 L544.60,180.26 L545.60,179.23 L546.60,178.12 L547.60,176.95 L548.60,175.69 L549.60,174.36 L550.60,172.94 L551.60,171.45 L552.60,169.87 L553.60,168.22 L554.60,166.49 L555.60,164.68 L556.60,162.81 L557.60,160.87 L558.60,158.89 L559.60,156.87 L560.60,154.84 L561.60,152.82 L562.60,150.81 L563.60,148.84 L564.60,146.94 L565.60,145.15 L566.60,143.48 L567.60,141.97 L568.60,140.62 L569.60,139.44 L570.60,138.45 L571.60,137.65 L572.60,137.03 L573.60,136.60 L574.60,136.33 L575.60,136.23 L576.60,136.29 L577.60,136.49 L578.60,136.84 L579.60,137.31 L580.60,137.90 L581.60,138.61 L582.60,139.42 L583.60,140.33 L584.60,141.32 L585.60,142.38 L586.60,143.51 L587.60,144.68 L588.60,145.89 L589.60,147.13 L590.60,148.38 L591.60,149.63 L592.60,150.88 L593.60,152.13 L594.60,153.36 L595.60,154.58 L596.60,155.78 L597.60,156.96 L598.60,158.10 L599.60,159.22 L600.60,160.30 L601.60,161.35 L602.60,162.37 L603.60,163.35 L604.60,164.30 L605.60,165.21 L606.60,166.10 L607.60,166.95 L608.60,167.77 L609.60,168.57 L610.60,169.35 L611.60,170.10 L612.60,170.83 L613.60,171.54 L614.60,172.23 L615.60,172.91 L616.60,173.57 L617.60,174.21 L618.60,174.83 L619.60,175.44 L620.60,176.02 L621.60,176.58 L622.60,177.13 L623.60,177.65 L624.60,178.15 L625.60,178.63 L626.60,179.09 L627.60,179.53 L628.60,179.95 L629.60,180.35 L630.60,180.74 L631.60,181.11 L632.60,181.47 L633.60,181.81 L634.60,182.15 L635.60,182.47 L636.60,182.79 L637.60,183.10 L638.60,183.40 L639.60,183.70 L640.60,183.99 L641.60,184.27 L642.60,184.55 L643.60,184.83 L644.60,185.10 L645.60,185.37 L646.60,185.63 L647.60,185.90 L648.60,186.16 L649.60,186.42 L650.60,186.68 L651.60,186.93 L652.60,187.19 L653.60,187.44 L654.60,187.68 L655.60,187.92 L656.60,188.15 L657.60,188.37 L658.60,188.59 L659.60,188.80 L660.60,189.00 L661.60,189.19 L662.60,189.37 L663.60,189.53 L664.60,189.69 L665.60,189.84 L666.60,189.98 L667.60,190.11 L668.60,190.24 L669.60,190.37 L670.60,190.49 L671.60,190.60 L672.60,190.72 L673.30,190.80" fill="none" stroke="#1a5520" stroke-width="2.0" stroke-linecap="round" stroke-linejoin="round" />
<line x1="635.7" y1="145.3" x2="635.7" y2="181.7" stroke="#4a4540" stroke-width="0.8"/>
<text transform="translate(614,105.6) scale(1.0,1)" x="0" y="0" font-size="7" text-anchor="start" fill="#333" stroke="#333" stroke-width="0.05" >High&#160;frequency</text>
<text transform="translate(627.8,125.3) scale(1.0,1)" x="0" y="0" font-size="7" text-anchor="start" fill="#333" stroke="#333" stroke-width="0.05" >Three&#160;phase</text>
<text transform="translate(563.7,166.8) scale(1.0,1)" x="0" y="0" font-size="7" text-anchor="start" fill="#555"  >Single</text>
<text transform="translate(563.7,175.6) scale(1.0,1)" x="0" y="0" font-size="7" text-anchor="start" fill="#555"  >phase</text>
<line x1="609.7" y1="104.4" x2="602" y2="110.6" stroke="#1a1a1a" stroke-width="1.3"/>
<path d="M600.5,111.8 L601.8,107.8 L604.6,110.6 Z" fill="#222"/>
<line x1="624.5" y1="123.1" x2="607.4" y2="134.7" stroke="#1a1a1a" stroke-width="1.25"/>
<line x1="587.4" y1="167.7" x2="595.5" y2="162" stroke="#1a1a1a" stroke-width="1.3"/>
<path d="M596.5,161.3 L592.5,162 L594.6,165 Z" fill="#222"/>
<text transform="translate(529.4,201.2) scale(1.0,1)" x="0" y="0" font-size="7.8" text-anchor="middle" fill="#555"  >0</text>
<text transform="translate(566.8,201.2) scale(1.0,1)" x="0" y="0" font-size="7.8" text-anchor="middle" fill="#555"  >25</text>
<text transform="translate(606.3,201.2) scale(1.0,1)" x="0" y="0" font-size="7.8" text-anchor="middle" fill="#555"  >50</text>
<text transform="translate(645,201.2) scale(1.0,1)" x="0" y="0" font-size="7.8" text-anchor="middle" fill="#555"  >75</text>
<text transform="translate(685.5,201.2) scale(1.0,1)" x="0" y="0" font-size="7.8" text-anchor="middle" fill="#555"  >100</text>
<text transform="translate(579.5,212.3) scale(1.0,1)" x="0" y="0" font-size="7" text-anchor="start" fill="#555"  >X-ray&#160;energy&#160;(keV)</text>
<text transform="translate(518.8,147.2) rotate(-90) scale(1.0,1)" x="0" y="0" font-size="7.6" text-anchor="middle" dominant-baseline="central" fill="#666"  >Number&#160;of&#160;x-rays</text>
<rect x="0" y="255" width="247" height="147" fill="#e2d3b6"/>
<line x1="18.4" y1="261" x2="18.4" y2="372" stroke="#2a2520" stroke-width="1.2"/>
<line x1="18.4" y1="368.2" x2="238" y2="368.2" stroke="#2a2520" stroke-width="1.3"/>
<line x1="74.3" y1="368.2" x2="74.3" y2="372" stroke="#6a6055" stroke-width="0.9"/>
<line x1="128.6" y1="368.2" x2="128.6" y2="372" stroke="#6a6055" stroke-width="0.9"/>
<line x1="183.3" y1="368.2" x2="183.3" y2="372" stroke="#6a6055" stroke-width="0.9"/>
<line x1="237.3" y1="368.2" x2="237.3" y2="372" stroke="#6a6055" stroke-width="0.9"/>
<path d="M17.90,365.81 L18.90,365.73 L19.90,365.65 L20.90,365.55 L21.90,365.42 L22.90,365.27 L23.90,365.08 L24.90,364.84 L25.90,364.55 L26.90,364.20 L27.90,363.79 L28.90,363.29 L29.90,362.72 L30.90,362.09 L31.90,361.38 L32.90,360.62 L33.90,359.81 L34.90,358.94 L35.90,358.03 L36.90,357.08 L37.90,356.08 L38.90,355.06 L39.90,353.99 L40.90,352.90 L41.90,351.78 L42.90,350.64 L43.90,349.47 L44.90,348.29 L45.90,347.09 L46.90,345.87 L47.90,344.65 L48.90,343.42 L49.90,342.19 L50.90,340.95 L51.90,339.71 L52.90,338.47 L53.90,337.24 L54.90,336.01 L55.90,334.79 L56.90,333.58 L57.90,332.38 L58.90,331.21 L59.90,330.06 L60.90,328.95 L61.90,327.88 L62.90,326.86 L63.90,325.89 L64.90,324.97 L65.90,324.11 L66.90,323.31 L67.90,322.56 L68.90,321.88 L69.90,321.27 L70.90,320.71 L71.90,320.23 L72.90,319.81 L73.90,319.46 L74.90,319.19 L75.90,318.98 L76.90,318.85 L77.90,318.79 L78.90,318.80 L79.90,318.89 L80.90,319.05 L81.90,319.28 L82.90,319.58 L83.90,319.94 L84.90,320.37 L85.90,320.86 L86.90,321.41 L87.90,322.01 L88.90,322.66 L89.90,323.35 L90.90,324.07 L91.90,324.81 L92.90,325.58 L93.90,326.36 L94.90,327.14 L95.90,327.92 L96.90,328.72 L97.90,329.52 L98.90,330.34 L99.90,331.17 L100.90,332.00 L101.90,332.85 L102.90,333.70 L103.90,334.54 L104.90,335.39 L105.90,336.22 L106.90,337.05 L107.90,337.86 L108.90,338.66 L109.90,339.43 L110.90,340.18 L111.90,340.92 L112.90,341.63 L113.90,342.33 L114.90,343.01 L115.90,343.68 L116.90,344.33 L117.90,344.97 L118.90,345.59 L119.90,346.20 L120.90,346.80 L121.90,347.40 L122.90,347.98 L123.90,348.56 L124.90,349.14 L125.90,349.71 L126.90,350.28 L127.90,350.84 L128.90,351.41 L129.90,351.98 L130.90,352.55 L131.90,353.12 L132.90,353.69 L133.90,354.26 L134.90,354.82 L135.90,355.39 L136.90,355.94 L137.90,356.49 L138.90,357.04 L139.90,357.57 L140.90,358.09 L141.90,358.61 L142.90,359.11 L143.90,359.59 L144.90,360.07 L145.90,360.53 L146.90,360.97 L147.90,361.40 L148.90,361.81 L149.90,362.20 L150.90,362.57 L151.90,362.92 L152.90,363.25 L153.90,363.55 L154.90,363.84 L155.90,364.10 L156.90,364.35 L157.90,364.57 L158.90,364.77 L159.90,364.96 L160.90,365.12 L161.90,365.27 L162.90,365.40 L163.90,365.52 L164.90,365.63 L165.90,365.74 L166.50,365.80" fill="none" stroke="#9ad6ec" stroke-width="1.4" stroke-linecap="round" stroke-linejoin="round" />
<path d="M18.90,367.21 L19.90,367.13 L20.90,367.05 L21.90,366.95 L22.90,366.82 L23.90,366.67 L24.90,366.48 L25.90,366.24 L26.90,365.95 L27.90,365.60 L28.90,365.19 L29.90,364.69 L30.90,364.12 L31.90,363.49 L32.90,362.78 L33.90,362.02 L34.90,361.21 L35.90,360.34 L36.90,359.43 L37.90,358.48 L38.90,357.48 L39.90,356.46 L40.90,355.39 L41.90,354.30 L42.90,353.18 L43.90,352.04 L44.90,350.87 L45.90,349.69 L46.90,348.49 L47.90,347.27 L48.90,346.05 L49.90,344.82 L50.90,343.59 L51.90,342.35 L52.90,341.11 L53.90,339.87 L54.90,338.64 L55.90,337.41 L56.90,336.19 L57.90,334.98 L58.90,333.78 L59.90,332.61 L60.90,331.46 L61.90,330.35 L62.90,329.28 L63.90,328.26 L64.90,327.29 L65.90,326.37 L66.90,325.51 L67.90,324.71 L68.90,323.96 L69.90,323.28 L70.90,322.67 L71.90,322.11 L72.90,321.63 L73.90,321.21 L74.90,320.86 L75.90,320.59 L76.90,320.38 L77.90,320.25 L78.90,320.19 L79.90,320.20 L80.90,320.29 L81.90,320.45 L82.90,320.68 L83.90,320.98 L84.90,321.34 L85.90,321.77 L86.90,322.26 L87.90,322.81 L88.90,323.41 L89.90,324.06 L90.90,324.75 L91.90,325.47 L92.90,326.21 L93.90,326.98 L94.90,327.76 L95.90,328.54 L96.90,329.32 L97.90,330.12 L98.90,330.92 L99.90,331.74 L100.90,332.57 L101.90,333.40 L102.90,334.25 L103.90,335.10 L104.90,335.94 L105.90,336.79 L106.90,337.62 L107.90,338.45 L108.90,339.26 L109.90,340.06 L110.90,340.83 L111.90,341.58 L112.90,342.32 L113.90,343.03 L114.90,343.73 L115.90,344.41 L116.90,345.08 L117.90,345.73 L118.90,346.37 L119.90,346.99 L120.90,347.60 L121.90,348.20 L122.90,348.80 L123.90,349.38 L124.90,349.96 L125.90,350.54 L126.90,351.11 L127.90,351.68 L128.90,352.24 L129.90,352.81 L130.90,353.38 L131.90,353.95 L132.90,354.52 L133.90,355.09 L134.90,355.66 L135.90,356.22 L136.90,356.79 L137.90,357.34 L138.90,357.89 L139.90,358.44 L140.90,358.97 L141.90,359.49 L142.90,360.01 L143.90,360.51 L144.90,360.99 L145.90,361.47 L146.90,361.93 L147.90,362.37 L148.90,362.80 L149.90,363.21 L150.90,363.60 L151.90,363.97 L152.90,364.32 L153.90,364.65 L154.90,364.95 L155.90,365.24 L156.90,365.50 L157.90,365.75 L158.90,365.97 L159.90,366.17 L160.90,366.36 L161.90,366.52 L162.90,366.67 L163.90,366.80 L164.90,366.92 L165.90,367.03 L166.90,367.14 L167.50,367.20" fill="none" stroke="#23757f" stroke-width="2.4" stroke-linecap="round" stroke-linejoin="round" />
<path d="M18.90,367.22 L19.90,367.07 L20.90,366.92 L21.90,366.74 L22.90,366.52 L23.90,366.24 L24.90,365.90 L25.90,365.48 L26.90,364.96 L27.90,364.35 L28.90,363.65 L29.90,362.87 L30.90,362.00 L31.90,361.05 L32.90,360.02 L33.90,358.91 L34.90,357.73 L35.90,356.49 L36.90,355.19 L37.90,353.85 L38.90,352.46 L39.90,351.04 L40.90,349.60 L41.90,348.13 L42.90,346.66 L43.90,345.18 L44.90,343.70 L45.90,342.22 L46.90,340.75 L47.90,339.29 L48.90,337.85 L49.90,336.42 L50.90,335.02 L51.90,333.63 L52.90,332.26 L53.90,330.90 L54.90,329.55 L55.90,328.21 L56.90,326.87 L57.90,325.53 L58.90,324.20 L59.90,322.88 L60.90,321.57 L61.90,320.27 L62.90,318.99 L63.90,317.72 L64.90,316.49 L65.90,315.28 L66.90,314.10 L67.90,312.97 L68.90,311.87 L69.90,310.82 L70.90,309.83 L71.90,308.89 L72.90,308.01 L73.90,307.18 L74.90,306.42 L75.90,305.71 L76.90,305.07 L77.90,304.48 L78.90,303.96 L79.90,303.50 L80.90,303.10 L81.90,302.75 L82.90,302.45 L83.90,302.20 L84.90,301.99 L85.90,301.83 L86.90,301.72 L87.90,301.64 L88.90,301.60 L89.90,301.60 L90.90,301.63 L91.90,301.70 L92.90,301.81 L93.90,301.95 L94.90,302.13 L95.90,302.34 L96.90,302.58 L97.90,302.86 L98.90,303.18 L99.90,303.53 L100.90,303.92 L101.90,304.34 L102.90,304.80 L103.90,305.31 L104.90,305.85 L105.90,306.43 L106.90,307.05 L107.90,307.72 L108.90,308.43 L109.90,309.19 L110.90,309.99 L111.90,310.84 L112.90,311.73 L113.90,312.65 L114.90,313.61 L115.90,314.58 L116.90,315.58 L117.90,316.59 L118.90,317.61 L119.90,318.64 L120.90,319.67 L121.90,320.70 L122.90,321.73 L123.90,322.75 L124.90,323.77 L125.90,324.79 L126.90,325.79 L127.90,326.79 L128.90,327.77 L129.90,328.74 L130.90,329.70 L131.90,330.63 L132.90,331.55 L133.90,332.46 L134.90,333.34 L135.90,334.20 L136.90,335.05 L137.90,335.87 L138.90,336.68 L139.90,337.46 L140.90,338.23 L141.90,338.97 L142.90,339.69 L143.90,340.39 L144.90,341.08 L145.90,341.75 L146.90,342.40 L147.90,343.04 L148.90,343.67 L149.90,344.29 L150.90,344.90 L151.90,345.51 L152.90,346.11 L153.90,346.70 L154.90,347.30 L155.90,347.89 L156.90,348.49 L157.90,349.08 L158.90,349.66 L159.90,350.25 L160.90,350.83 L161.90,351.40 L162.90,351.98 L163.90,352.55 L164.90,353.11 L165.90,353.67 L166.90,354.23 L167.90,354.78 L168.90,355.33 L169.90,355.87 L170.90,356.41 L171.90,356.95 L172.90,357.48 L173.90,358.01 L174.90,358.53 L175.90,359.05 L176.90,359.56 L177.90,360.07 L178.90,360.57 L179.90,361.06 L180.90,361.54 L181.90,362.01 L182.90,362.47 L183.90,362.91 L184.90,363.34 L185.90,363.76 L186.90,364.15 L187.90,364.53 L188.90,364.90 L189.90,365.24 L190.90,365.56 L191.90,365.86 L192.90,366.14 L193.90,366.39 L194.90,366.63 L195.90,366.85 L196.90,367.07 L197.90,367.27 L198.90,367.47 L199.60,367.60" fill="none" stroke="#2b3577" stroke-width="2.6" stroke-linecap="round" stroke-linejoin="round" />
<line x1="161.3" y1="327.8" x2="161.3" y2="351" stroke="#1a1a1a" stroke-width="1.1"/>
<line x1="161.3" y1="358.5" x2="161.3" y2="367" stroke="#1a1a1a" stroke-width="1.1"/>
<text transform="translate(120.2,316.8) scale(1.0,1)" x="0" y="0" font-size="9.4" text-anchor="start" fill="#111" stroke="#111" stroke-width="0.12" >82&#160;&#160;kVp</text>
<text transform="translate(80.4,355) scale(1.0,1)" x="0" y="0" font-size="9.4" text-anchor="start" fill="#111" stroke="#111" stroke-width="0.12" >72&#160;&#160;kVp</text>
<text transform="translate(18.2,382.9) scale(1.0,1)" x="0" y="0" font-size="10.0" text-anchor="middle" fill="#111" stroke="#111" stroke-width="0.05" >0</text>
<text transform="translate(73,382.9) scale(1.0,1)" x="0" y="0" font-size="10.0" text-anchor="middle" fill="#111" stroke="#111" stroke-width="0.05" >25</text>
<text transform="translate(128.5,382.9) scale(1.0,1)" x="0" y="0" font-size="10.0" text-anchor="middle" fill="#111" stroke="#111" stroke-width="0.05" >50</text>
<text transform="translate(183.5,382.9) scale(1.0,1)" x="0" y="0" font-size="10.0" text-anchor="middle" fill="#111" stroke="#111" stroke-width="0.05" >75</text>
<text transform="translate(237.7,382.9) scale(1.0,1)" x="0" y="0" font-size="10.0" text-anchor="middle" fill="#111" stroke="#111" stroke-width="0.05" >100</text>
<text transform="translate(86.8,395.6) scale(1.0,1)" x="0" y="0" font-size="9.2" text-anchor="start" fill="#222" stroke="#222" stroke-width="0.12" >X-ray&#160;&#160;energy&#160;&#160;(keV)</text>
<text transform="translate(6.7,314.8) rotate(-90) scale(1.0,1)" x="0" y="0" font-size="9.0" text-anchor="middle" dominant-baseline="central" fill="#111"  font-weight="bold">Number&#160;&#160;of&#160;&#160;x-rays</text>
<rect x="252.5" y="259" width="239.5" height="160.5" fill="#e4d4b4"/>
<line x1="278.4" y1="272.5" x2="278.4" y2="384" stroke="#8c8274" stroke-width="1"/>
<line x1="278.4" y1="383.6" x2="476" y2="383.6" stroke="#5a4d40" stroke-width="1.3"/>
<line x1="326.2" y1="379.8" x2="326.2" y2="383.5" stroke="#6a5d50" stroke-width="1"/>
<line x1="375.2" y1="379.8" x2="375.2" y2="383.5" stroke="#6a5d50" stroke-width="1"/>
<line x1="425.6" y1="379.8" x2="425.6" y2="383.5" stroke="#6a5d50" stroke-width="1"/>
<line x1="475.6" y1="379.8" x2="475.6" y2="383.5" stroke="#6a5d50" stroke-width="1"/>
<path d="M278.00,381.90 L279.00,381.26 L280.00,380.61 L281.00,379.95 L282.00,379.29 L283.00,378.61 L284.00,377.93 L285.00,377.22 L286.00,376.49 L287.00,375.74 L288.00,374.96 L289.00,374.16 L290.00,373.32 L291.00,372.45 L292.00,371.54 L293.00,370.59 L294.00,369.60 L295.00,368.56 L296.00,367.47 L297.00,366.33 L298.00,365.15 L299.00,363.91 L300.00,362.61 L301.00,361.25 L302.00,359.84 L303.00,358.36 L304.00,356.82 L305.00,355.21 L306.00,353.54 L307.00,351.79 L308.00,349.97 L309.00,348.07 L310.00,346.10 L311.00,344.04 L312.00,341.90 L313.00,339.68 L314.00,337.36 L315.00,334.96 L316.00,332.47 L317.00,329.89 L318.00,327.22 L319.00,324.45 L320.00,321.62 L321.00,318.76 L322.00,315.92 L323.00,313.13 L324.00,310.44 L325.00,307.88 L326.00,305.49 L327.00,303.31 L328.00,301.37 L329.00,299.67 L330.00,298.19 L331.00,296.90 L332.00,295.80 L333.00,294.87 L334.00,294.09 L335.00,293.46 L336.00,292.98 L337.00,292.66 L338.00,292.48 L339.00,292.44 L340.00,292.55 L341.00,292.79 L342.00,293.15 L343.00,293.62 L344.00,294.19 L345.00,294.84 L346.00,295.56 L347.00,296.35 L348.00,297.20 L349.00,298.10 L350.00,299.04 L351.00,300.02 L352.00,301.03 L353.00,302.06 L354.00,303.13 L355.00,304.22 L356.00,305.34 L357.00,306.48 L358.00,307.64 L359.00,308.83 L360.00,310.04 L361.00,311.25 L362.00,312.48 L363.00,313.71 L364.00,314.96 L365.00,316.21 L366.00,317.47 L367.00,318.73 L368.00,319.98 L369.00,321.23 L370.00,322.45 L371.00,323.66 L372.00,324.84 L373.00,326.01 L374.00,327.17 L375.00,328.32 L376.00,329.47 L377.00,330.61 L378.00,331.76 L379.00,332.91 L380.00,334.07 L381.00,335.24 L382.00,336.43 L383.00,337.63 L384.00,338.84 L385.00,340.06 L386.00,341.27 L387.00,342.47 L388.00,343.67 L389.00,344.85 L390.00,346.02 L391.00,347.16 L392.00,348.28 L393.00,349.37 L394.00,350.44 L395.00,351.48 L396.00,352.48 L397.00,353.45 L398.00,354.39 L399.00,355.29 L400.00,356.15 L401.00,356.98 L402.00,357.76 L403.00,358.50 L404.00,359.20 L405.00,359.86 L406.00,360.48 L407.00,361.07 L408.00,361.63 L409.00,362.16 L410.00,362.67 L411.00,363.15 L412.00,363.62 L413.00,364.07 L414.00,364.51 L415.00,364.93 L416.00,365.35 L417.00,365.75 L418.00,366.15 L419.00,366.54 L420.00,366.92 L421.00,367.30 L422.00,367.67 L423.00,368.04 L424.00,368.41 L425.00,368.77 L426.00,369.13 L427.00,369.50 L428.00,369.86 L429.00,370.22 L430.00,370.58 L431.00,370.94 L432.00,371.30 L433.00,371.65 L434.00,372.01 L435.00,372.37 L436.00,372.72 L437.00,373.08 L438.00,373.43 L439.00,373.78 L440.00,374.13 L441.00,374.48 L442.00,374.82 L443.00,375.16 L444.00,375.49 L445.00,375.81 L446.00,376.13 L447.00,376.45 L448.00,376.75 L449.00,377.05 L450.00,377.35 L451.00,377.63 L452.00,377.91 L453.00,378.17 L454.00,378.44 L455.00,378.69 L456.00,378.93 L457.00,379.17 L458.00,379.40 L459.00,379.63 L460.00,379.84 L461.00,380.06 L462.00,380.27 L463.00,380.47 L464.00,380.68 L464.60,380.80" fill="none" stroke="#9ad6ec" stroke-width="1.4" stroke-linecap="round" stroke-linejoin="round" />
<path d="M279.00,383.30 L280.00,382.66 L281.00,382.01 L282.00,381.35 L283.00,380.69 L284.00,380.01 L285.00,379.33 L286.00,378.62 L287.00,377.89 L288.00,377.14 L289.00,376.36 L290.00,375.56 L291.00,374.72 L292.00,373.85 L293.00,372.94 L294.00,371.99 L295.00,371.00 L296.00,369.96 L297.00,368.87 L298.00,367.73 L299.00,366.55 L300.00,365.31 L301.00,364.01 L302.00,362.65 L303.00,361.24 L304.00,359.76 L305.00,358.22 L306.00,356.61 L307.00,354.94 L308.00,353.19 L309.00,351.37 L310.00,349.47 L311.00,347.50 L312.00,345.44 L313.00,343.30 L314.00,341.08 L315.00,338.76 L316.00,336.36 L317.00,333.87 L318.00,331.29 L319.00,328.62 L320.00,325.85 L321.00,323.02 L322.00,320.16 L323.00,317.32 L324.00,314.53 L325.00,311.84 L326.00,309.28 L327.00,306.89 L328.00,304.71 L329.00,302.77 L330.00,301.07 L331.00,299.59 L332.00,298.30 L333.00,297.20 L334.00,296.27 L335.00,295.49 L336.00,294.86 L337.00,294.38 L338.00,294.06 L339.00,293.88 L340.00,293.84 L341.00,293.95 L342.00,294.19 L343.00,294.55 L344.00,295.02 L345.00,295.59 L346.00,296.24 L347.00,296.96 L348.00,297.75 L349.00,298.60 L350.00,299.50 L351.00,300.44 L352.00,301.42 L353.00,302.43 L354.00,303.46 L355.00,304.53 L356.00,305.62 L357.00,306.74 L358.00,307.88 L359.00,309.04 L360.00,310.23 L361.00,311.44 L362.00,312.65 L363.00,313.88 L364.00,315.11 L365.00,316.36 L366.00,317.61 L367.00,318.87 L368.00,320.13 L369.00,321.38 L370.00,322.63 L371.00,323.85 L372.00,325.06 L373.00,326.24 L374.00,327.41 L375.00,328.57 L376.00,329.72 L377.00,330.87 L378.00,332.01 L379.00,333.16 L380.00,334.31 L381.00,335.47 L382.00,336.64 L383.00,337.83 L384.00,339.03 L385.00,340.24 L386.00,341.46 L387.00,342.67 L388.00,343.87 L389.00,345.07 L390.00,346.25 L391.00,347.42 L392.00,348.56 L393.00,349.68 L394.00,350.77 L395.00,351.84 L396.00,352.88 L397.00,353.88 L398.00,354.85 L399.00,355.79 L400.00,356.69 L401.00,357.55 L402.00,358.38 L403.00,359.16 L404.00,359.90 L405.00,360.60 L406.00,361.26 L407.00,361.88 L408.00,362.47 L409.00,363.03 L410.00,363.56 L411.00,364.07 L412.00,364.55 L413.00,365.02 L414.00,365.47 L415.00,365.91 L416.00,366.33 L417.00,366.75 L418.00,367.15 L419.00,367.55 L420.00,367.94 L421.00,368.32 L422.00,368.70 L423.00,369.07 L424.00,369.44 L425.00,369.81 L426.00,370.17 L427.00,370.53 L428.00,370.90 L429.00,371.26 L430.00,371.62 L431.00,371.98 L432.00,372.34 L433.00,372.70 L434.00,373.05 L435.00,373.41 L436.00,373.77 L437.00,374.12 L438.00,374.48 L439.00,374.83 L440.00,375.18 L441.00,375.53 L442.00,375.88 L443.00,376.22 L444.00,376.56 L445.00,376.89 L446.00,377.21 L447.00,377.53 L448.00,377.85 L449.00,378.15 L450.00,378.45 L451.00,378.75 L452.00,379.03 L453.00,379.31 L454.00,379.57 L455.00,379.84 L456.00,380.09 L457.00,380.33 L458.00,380.57 L459.00,380.80 L460.00,381.03 L461.00,381.24 L462.00,381.46 L463.00,381.67 L464.00,381.87 L465.00,382.08 L465.60,382.20" fill="none" stroke="#2a8c9c" stroke-width="2.1" stroke-linecap="round" stroke-linejoin="round" />
<path d="M279.00,383.30 L280.00,382.32 L281.00,381.34 L282.00,380.35 L283.00,379.36 L284.00,378.37 L285.00,377.36 L286.00,376.35 L287.00,375.33 L288.00,374.30 L289.00,373.25 L290.00,372.19 L291.00,371.12 L292.00,370.02 L293.00,368.89 L294.00,367.73 L295.00,366.53 L296.00,365.28 L297.00,363.99 L298.00,362.64 L299.00,361.22 L300.00,359.74 L301.00,358.19 L302.00,356.57 L303.00,354.88 L304.00,353.12 L305.00,351.29 L306.00,349.40 L307.00,347.44 L308.00,345.41 L309.00,343.32 L310.00,341.17 L311.00,338.96 L312.00,336.70 L313.00,334.39 L314.00,332.03 L315.00,329.62 L316.00,327.18 L317.00,324.70 L318.00,322.21 L319.00,319.71 L320.00,317.20 L321.00,314.72 L322.00,312.26 L323.00,309.83 L324.00,307.46 L325.00,305.15 L326.00,302.91 L327.00,300.77 L328.00,298.72 L329.00,296.79 L330.00,294.99 L331.00,293.33 L332.00,291.82 L333.00,290.49 L334.00,289.31 L335.00,288.29 L336.00,287.42 L337.00,286.69 L338.00,286.09 L339.00,285.61 L340.00,285.25 L341.00,284.99 L342.00,284.83 L343.00,284.76 L344.00,284.77 L345.00,284.86 L346.00,285.03 L347.00,285.28 L348.00,285.62 L349.00,286.04 L350.00,286.54 L351.00,287.12 L352.00,287.79 L353.00,288.52 L354.00,289.33 L355.00,290.19 L356.00,291.11 L357.00,292.07 L358.00,293.07 L359.00,294.10 L360.00,295.15 L361.00,296.21 L362.00,297.29 L363.00,298.38 L364.00,299.49 L365.00,300.62 L366.00,301.78 L367.00,302.96 L368.00,304.16 L369.00,305.38 L370.00,306.61 L371.00,307.86 L372.00,309.12 L373.00,310.39 L374.00,311.66 L375.00,312.94 L376.00,314.23 L377.00,315.51 L378.00,316.80 L379.00,318.08 L380.00,319.35 L381.00,320.62 L382.00,321.88 L383.00,323.13 L384.00,324.38 L385.00,325.61 L386.00,326.84 L387.00,328.07 L388.00,329.29 L389.00,330.51 L390.00,331.72 L391.00,332.94 L392.00,334.16 L393.00,335.38 L394.00,336.61 L395.00,337.84 L396.00,339.06 L397.00,340.27 L398.00,341.47 L399.00,342.66 L400.00,343.82 L401.00,344.95 L402.00,346.05 L403.00,347.12 L404.00,348.14 L405.00,349.12 L406.00,350.06 L407.00,350.97 L408.00,351.84 L409.00,352.67 L410.00,353.48 L411.00,354.25 L412.00,355.00 L413.00,355.73 L414.00,356.43 L415.00,357.12 L416.00,357.78 L417.00,358.43 L418.00,359.07 L419.00,359.69 L420.00,360.30 L421.00,360.90 L422.00,361.50 L423.00,362.09 L424.00,362.67 L425.00,363.25 L426.00,363.83 L427.00,364.40 L428.00,364.97 L429.00,365.53 L430.00,366.08 L431.00,366.63 L432.00,367.17 L433.00,367.69 L434.00,368.21 L435.00,368.72 L436.00,369.22 L437.00,369.71 L438.00,370.18 L439.00,370.65 L440.00,371.10 L441.00,371.55 L442.00,371.98 L443.00,372.41 L444.00,372.84 L445.00,373.25 L446.00,373.66 L447.00,374.07 L448.00,374.48 L449.00,374.88 L450.00,375.28 L451.00,375.68 L452.00,376.09 L453.00,376.49 L454.00,376.90 L455.00,377.31 L456.00,377.72 L457.00,378.14 L458.00,378.56 L459.00,379.00 L460.00,379.44 L461.00,379.89 L462.00,380.34 L463.00,380.80 L464.00,381.26 L465.00,381.72 L465.60,382.00" fill="none" stroke="#213d88" stroke-width="2.4" stroke-linecap="round" stroke-linejoin="round" />
<path d="M279.00,383.30 L280.00,382.62 L281.00,381.94 L282.00,381.27 L283.00,380.60 L284.00,379.94 L285.00,379.28 L286.00,378.63 L287.00,378.00 L288.00,377.37 L289.00,376.75 L290.00,376.15 L291.00,375.56 L292.00,374.99 L293.00,374.44 L294.00,373.90 L295.00,373.37 L296.00,372.86 L297.00,372.37 L298.00,371.89 L299.00,371.44 L300.00,370.99 L301.00,370.57 L302.00,370.16 L303.00,369.77 L304.00,369.40 L305.00,369.04 L306.00,368.70 L307.00,368.38 L308.00,368.07 L309.00,367.79 L310.00,367.51 L311.00,367.26 L312.00,367.02 L313.00,366.81 L314.00,366.63 L315.00,366.47 L316.00,366.34 L317.00,366.23 L318.00,366.15 L319.00,366.08 L320.00,366.03 L321.00,366.00 L322.00,365.99 L323.00,365.98 L324.00,365.99 L325.00,366.01 L326.00,366.02 L327.00,366.05 L328.00,366.07 L329.00,366.11 L330.00,366.14 L331.00,366.19 L332.00,366.24 L333.00,366.30 L334.00,366.37 L335.00,366.44 L336.00,366.52 L337.00,366.61 L338.00,366.71 L339.00,366.82 L340.00,366.93 L341.00,367.03 L342.00,367.14 L343.00,367.24 L344.00,367.34 L345.00,367.43 L346.00,367.52 L347.00,367.60 L348.00,367.68 L349.00,367.76 L350.00,367.83 L351.00,367.90 L352.00,367.97 L353.00,368.04 L354.00,368.10 L355.00,368.16 L356.00,368.22 L357.00,368.28 L358.00,368.33 L359.00,368.39 L360.00,368.45 L361.00,368.50 L362.00,368.55 L363.00,368.61 L364.00,368.66 L365.00,368.72 L366.00,368.77 L367.00,368.83 L368.00,368.88 L369.00,368.94 L370.00,369.00 L371.00,369.06 L372.00,369.13 L373.00,369.19 L374.00,369.26 L375.00,369.33 L376.00,369.41 L377.00,369.48 L378.00,369.56 L379.00,369.65 L380.00,369.73 L381.00,369.81 L382.00,369.90 L383.00,369.99 L384.00,370.07 L385.00,370.16 L386.00,370.25 L387.00,370.33 L388.00,370.42 L389.00,370.50 L390.00,370.59 L391.00,370.67 L392.00,370.75 L393.00,370.83 L394.00,370.90 L395.00,370.97 L396.00,371.05 L397.00,371.12 L398.00,371.18 L399.00,371.25 L400.00,371.32 L401.00,371.39 L402.00,371.46 L403.00,371.52 L404.00,371.59 L405.00,371.66 L406.00,371.73 L407.00,371.81 L408.00,371.88 L409.00,371.96 L410.00,372.04 L411.00,372.12 L412.00,372.20 L413.00,372.29 L414.00,372.38 L415.00,372.48 L416.00,372.57 L417.00,372.68 L418.00,372.78 L419.00,372.89 L420.00,373.01 L421.00,373.13 L422.00,373.25 L423.00,373.37 L424.00,373.50 L425.00,373.64 L426.00,373.77 L427.00,373.91 L428.00,374.06 L429.00,374.21 L430.00,374.36 L431.00,374.52 L432.00,374.67 L433.00,374.84 L434.00,375.00 L435.00,375.17 L436.00,375.35 L437.00,375.52 L438.00,375.71 L439.00,375.89 L440.00,376.08 L441.00,376.28 L442.00,376.48 L443.00,376.68 L444.00,376.90 L445.00,377.12 L446.00,377.34 L447.00,377.58 L448.00,377.82 L449.00,378.07 L450.00,378.34 L451.00,378.61 L452.00,378.89 L453.00,379.18 L454.00,379.49 L455.00,379.80 L456.00,380.13 L457.00,380.46 L458.00,380.81 L459.00,381.16 L460.00,381.51 L461.00,381.87 L462.00,382.23 L463.00,382.60 L463.00,382.60 L462.00,382.41 L461.00,382.22 L460.00,382.04 L459.00,381.85 L458.00,381.67 L457.00,381.49 L456.00,381.31 L455.00,381.14 L454.00,380.96 L453.00,380.80 L452.00,380.63 L451.00,380.47 L450.00,380.31 L449.00,380.16 L448.00,380.01 L447.00,379.86 L446.00,379.71 L445.00,379.57 L444.00,379.43 L443.00,379.30 L442.00,379.16 L441.00,379.03 L440.00,378.90 L439.00,378.78 L438.00,378.65 L437.00,378.53 L436.00,378.41 L435.00,378.29 L434.00,378.18 L433.00,378.06 L432.00,377.95 L431.00,377.84 L430.00,377.73 L429.00,377.63 L428.00,377.52 L427.00,377.42 L426.00,377.32 L425.00,377.22 L424.00,377.12 L423.00,377.03 L422.00,376.94 L421.00,376.85 L420.00,376.76 L419.00,376.67 L418.00,376.59 L417.00,376.51 L416.00,376.43 L415.00,376.35 L414.00,376.27 L413.00,376.20 L412.00,376.13 L411.00,376.06 L410.00,375.99 L409.00,375.92 L408.00,375.86 L407.00,375.79 L406.00,375.73 L405.00,375.67 L404.00,375.61 L403.00,375.55 L402.00,375.50 L401.00,375.44 L400.00,375.39 L399.00,375.34 L398.00,375.29 L397.00,375.24 L396.00,375.19 L395.00,375.14 L394.00,375.09 L393.00,375.04 L392.00,375.00 L391.00,374.95 L390.00,374.91 L389.00,374.86 L388.00,374.82 L387.00,374.77 L386.00,374.73 L385.00,374.68 L384.00,374.64 L383.00,374.59 L382.00,374.54 L381.00,374.50 L380.00,374.45 L379.00,374.40 L378.00,374.34 L377.00,374.29 L376.00,374.24 L375.00,374.18 L374.00,374.12 L373.00,374.06 L372.00,374.00 L371.00,373.93 L370.00,373.87 L369.00,373.80 L368.00,373.73 L367.00,373.66 L366.00,373.59 L365.00,373.52 L364.00,373.45 L363.00,373.39 L362.00,373.32 L361.00,373.25 L360.00,373.18 L359.00,373.11 L358.00,373.05 L357.00,372.98 L356.00,372.92 L355.00,372.85 L354.00,372.79 L353.00,372.74 L352.00,372.68 L351.00,372.63 L350.00,372.58 L349.00,372.53 L348.00,372.48 L347.00,372.44 L346.00,372.40 L345.00,372.36 L344.00,372.33 L343.00,372.31 L342.00,372.28 L341.00,372.26 L340.00,372.25 L339.00,372.23 L338.00,372.22 L337.00,372.21 L336.00,372.20 L335.00,372.19 L334.00,372.18 L333.00,372.16 L332.00,372.15 L331.00,372.15 L330.00,372.14 L329.00,372.13 L328.00,372.13 L327.00,372.13 L326.00,372.14 L325.00,372.14 L324.00,372.16 L323.00,372.17 L322.00,372.20 L321.00,372.23 L320.00,372.26 L319.00,372.31 L318.00,372.37 L317.00,372.44 L316.00,372.52 L315.00,372.61 L314.00,372.72 L313.00,372.83 L312.00,372.95 L311.00,373.08 L310.00,373.22 L309.00,373.36 L308.00,373.52 L307.00,373.69 L306.00,373.87 L305.00,374.07 L304.00,374.29 L303.00,374.53 L302.00,374.78 L301.00,375.06 L300.00,375.35 L299.00,375.67 L298.00,375.99 L297.00,376.33 L296.00,376.68 L295.00,377.04 L294.00,377.41 L293.00,377.78 L292.00,378.17 L291.00,378.55 L290.00,378.94 L289.00,379.33 L288.00,379.73 L287.00,380.12 L286.00,380.52 L285.00,380.91 L284.00,381.31 L283.00,381.71 L282.00,382.10 L281.00,382.50 L280.00,382.90 L279.00,383.30 Z" fill="#b2d890" stroke="none"/>
<path d="M279.00,383.30 L280.00,382.62 L281.00,381.94 L282.00,381.27 L283.00,380.60 L284.00,379.94 L285.00,379.28 L286.00,378.63 L287.00,378.00 L288.00,377.37 L289.00,376.75 L290.00,376.15 L291.00,375.56 L292.00,374.99 L293.00,374.44 L294.00,373.90 L295.00,373.37 L296.00,372.86 L297.00,372.37 L298.00,371.89 L299.00,371.44 L300.00,370.99 L301.00,370.57 L302.00,370.16 L303.00,369.77 L304.00,369.40 L305.00,369.04 L306.00,368.70 L307.00,368.38 L308.00,368.07 L309.00,367.79 L310.00,367.51 L311.00,367.26 L312.00,367.02 L313.00,366.81 L314.00,366.63 L315.00,366.47 L316.00,366.34 L317.00,366.23 L318.00,366.15 L319.00,366.08 L320.00,366.03 L321.00,366.00 L322.00,365.99 L323.00,365.98 L324.00,365.99 L325.00,366.01 L326.00,366.02 L327.00,366.05 L328.00,366.07 L329.00,366.11 L330.00,366.14 L331.00,366.19 L332.00,366.24 L333.00,366.30 L334.00,366.37 L335.00,366.44 L336.00,366.52 L337.00,366.61 L338.00,366.71 L339.00,366.82 L340.00,366.93 L341.00,367.03 L342.00,367.14 L343.00,367.24 L344.00,367.34 L345.00,367.43 L346.00,367.52 L347.00,367.60 L348.00,367.68 L349.00,367.76 L350.00,367.83 L351.00,367.90 L352.00,367.97 L353.00,368.04 L354.00,368.10 L355.00,368.16 L356.00,368.22 L357.00,368.28 L358.00,368.33 L359.00,368.39 L360.00,368.45 L361.00,368.50 L362.00,368.55 L363.00,368.61 L364.00,368.66 L365.00,368.72 L366.00,368.77 L367.00,368.83 L368.00,368.88 L369.00,368.94 L370.00,369.00 L371.00,369.06 L372.00,369.13 L373.00,369.19 L374.00,369.26 L375.00,369.33 L376.00,369.41 L377.00,369.48 L378.00,369.56 L379.00,369.65 L380.00,369.73 L381.00,369.81 L382.00,369.90 L383.00,369.99 L384.00,370.07 L385.00,370.16 L386.00,370.25 L387.00,370.33 L388.00,370.42 L389.00,370.50 L390.00,370.59 L391.00,370.67 L392.00,370.75 L393.00,370.83 L394.00,370.90 L395.00,370.97 L396.00,371.05 L397.00,371.12 L398.00,371.18 L399.00,371.25 L400.00,371.32 L401.00,371.39 L402.00,371.46 L403.00,371.52 L404.00,371.59 L405.00,371.66 L406.00,371.73 L407.00,371.81 L408.00,371.88 L409.00,371.96 L410.00,372.04 L411.00,372.12 L412.00,372.20 L413.00,372.29 L414.00,372.38 L415.00,372.48 L416.00,372.57 L417.00,372.68 L418.00,372.78 L419.00,372.89 L420.00,373.01 L421.00,373.13 L422.00,373.25 L423.00,373.37 L424.00,373.50 L425.00,373.64 L426.00,373.77 L427.00,373.91 L428.00,374.06 L429.00,374.21 L430.00,374.36 L431.00,374.52 L432.00,374.67 L433.00,374.84 L434.00,375.00 L435.00,375.17 L436.00,375.35 L437.00,375.52 L438.00,375.71 L439.00,375.89 L440.00,376.08 L441.00,376.28 L442.00,376.48 L443.00,376.68 L444.00,376.90 L445.00,377.12 L446.00,377.34 L447.00,377.58 L448.00,377.82 L449.00,378.07 L450.00,378.34 L451.00,378.61 L452.00,378.89 L453.00,379.18 L454.00,379.49 L455.00,379.80 L456.00,380.13 L457.00,380.46 L458.00,380.81 L459.00,381.16 L460.00,381.51 L461.00,381.87 L462.00,382.23 L463.00,382.60" fill="none" stroke="#8fca72" stroke-width="1.8" stroke-linecap="round" stroke-linejoin="round" />
<path d="M279.00,383.30 L280.00,382.90 L281.00,382.50 L282.00,382.10 L283.00,381.71 L284.00,381.31 L285.00,380.91 L286.00,380.52 L287.00,380.12 L288.00,379.73 L289.00,379.33 L290.00,378.94 L291.00,378.55 L292.00,378.17 L293.00,377.78 L294.00,377.41 L295.00,377.04 L296.00,376.68 L297.00,376.33 L298.00,375.99 L299.00,375.67 L300.00,375.35 L301.00,375.06 L302.00,374.78 L303.00,374.53 L304.00,374.29 L305.00,374.07 L306.00,373.87 L307.00,373.69 L308.00,373.52 L309.00,373.36 L310.00,373.22 L311.00,373.08 L312.00,372.95 L313.00,372.83 L314.00,372.72 L315.00,372.61 L316.00,372.52 L317.00,372.44 L318.00,372.37 L319.00,372.31 L320.00,372.26 L321.00,372.23 L322.00,372.20 L323.00,372.17 L324.00,372.16 L325.00,372.14 L326.00,372.14 L327.00,372.13 L328.00,372.13 L329.00,372.13 L330.00,372.14 L331.00,372.15 L332.00,372.15 L333.00,372.16 L334.00,372.18 L335.00,372.19 L336.00,372.20 L337.00,372.21 L338.00,372.22 L339.00,372.23 L340.00,372.25 L341.00,372.26 L342.00,372.28 L343.00,372.31 L344.00,372.33 L345.00,372.36 L346.00,372.40 L347.00,372.44 L348.00,372.48 L349.00,372.53 L350.00,372.58 L351.00,372.63 L352.00,372.68 L353.00,372.74 L354.00,372.79 L355.00,372.85 L356.00,372.92 L357.00,372.98 L358.00,373.05 L359.00,373.11 L360.00,373.18 L361.00,373.25 L362.00,373.32 L363.00,373.39 L364.00,373.45 L365.00,373.52 L366.00,373.59 L367.00,373.66 L368.00,373.73 L369.00,373.80 L370.00,373.87 L371.00,373.93 L372.00,374.00 L373.00,374.06 L374.00,374.12 L375.00,374.18 L376.00,374.24 L377.00,374.29 L378.00,374.34 L379.00,374.40 L380.00,374.45 L381.00,374.50 L382.00,374.54 L383.00,374.59 L384.00,374.64 L385.00,374.68 L386.00,374.73 L387.00,374.77 L388.00,374.82 L389.00,374.86 L390.00,374.91 L391.00,374.95 L392.00,375.00 L393.00,375.04 L394.00,375.09 L395.00,375.14 L396.00,375.19 L397.00,375.24 L398.00,375.29 L399.00,375.34 L400.00,375.39 L401.00,375.44 L402.00,375.50 L403.00,375.55 L404.00,375.61 L405.00,375.67 L406.00,375.73 L407.00,375.79 L408.00,375.86 L409.00,375.92 L410.00,375.99 L411.00,376.06 L412.00,376.13 L413.00,376.20 L414.00,376.27 L415.00,376.35 L416.00,376.43 L417.00,376.51 L418.00,376.59 L419.00,376.67 L420.00,376.76 L421.00,376.85 L422.00,376.94 L423.00,377.03 L424.00,377.12 L425.00,377.22 L426.00,377.32 L427.00,377.42 L428.00,377.52 L429.00,377.63 L430.00,377.73 L431.00,377.84 L432.00,377.95 L433.00,378.06 L434.00,378.18 L435.00,378.29 L436.00,378.41 L437.00,378.53 L438.00,378.65 L439.00,378.78 L440.00,378.90 L441.00,379.03 L442.00,379.16 L443.00,379.30 L444.00,379.43 L445.00,379.57 L446.00,379.71 L447.00,379.86 L448.00,380.01 L449.00,380.16 L450.00,380.31 L451.00,380.47 L452.00,380.63 L453.00,380.80 L454.00,380.96 L455.00,381.14 L456.00,381.31 L457.00,381.49 L458.00,381.67 L459.00,381.85 L460.00,382.04 L461.00,382.22 L462.00,382.41 L463.00,382.60" fill="none" stroke="#174f20" stroke-width="1.9" stroke-linecap="round" stroke-linejoin="round" />
<line x1="313.2" y1="358.9" x2="313.2" y2="373.3" stroke="#111" stroke-width="1.1"/>
<line x1="321.2" y1="352.2" x2="321.2" y2="373.3" stroke="#111" stroke-width="1.1"/>
<line x1="423.4" y1="345.6" x2="423.4" y2="363.3" stroke="#4a4540" stroke-width="0.9"/>
<line x1="414.4" y1="360" x2="414.4" y2="367.8" stroke="#222" stroke-width="1"/>
<text transform="translate(360.9,284.6) scale(0.9,1)" x="0" y="0" font-size="8.8" text-anchor="start" fill="#1a1a1a" stroke="#1a1a1a" stroke-width="0.12" >Gold</text>
<text transform="translate(369.6,295.6) scale(0.9,1)" x="0" y="0" font-size="9.2" text-anchor="start" fill="#1a1a1a" stroke="#1a1a1a" stroke-width="0.12" >Z&#160;&#160;=&#160;&#160;79</text>
<text transform="translate(328.8,320.2) scale(0.86,1)" x="0" y="0" font-size="9.0" text-anchor="start" fill="#1a1a1a" stroke="#1a1a1a" stroke-width="0.12" >Tungsten</text>
<text transform="translate(329.8,330.6) scale(0.95,1)" x="0" y="0" font-size="9.2" text-anchor="start" fill="#1a1a1a" stroke="#1a1a1a" stroke-width="0.12" >Z&#160;&#160;=&#160;&#160;74</text>
<text transform="translate(318,350.3) scale(0.88,1)" x="0" y="0" font-size="8.6" text-anchor="start" fill="#1a1a1a" stroke="#1a1a1a" stroke-width="0.12" >Rhodium</text>
<text transform="translate(315,369.2) scale(0.955,1)" x="0" y="0" font-size="9.0" text-anchor="start" fill="#1a1a1a" stroke="#1a1a1a" stroke-width="0.12" >Molybdenum&#160;&#160;&#160;Z&#160;&#160;=&#160;&#160;42</text>
<text transform="translate(277.8,396.8) scale(0.95,1)" x="0" y="0" font-size="8.6" text-anchor="middle" fill="#222" stroke="#222" stroke-width="0.12" >0</text>
<text transform="translate(326.7,396.8) scale(0.95,1)" x="0" y="0" font-size="8.6" text-anchor="middle" fill="#222" stroke="#222" stroke-width="0.12" >25</text>
<text transform="translate(375.2,396.8) scale(0.95,1)" x="0" y="0" font-size="8.6" text-anchor="middle" fill="#222" stroke="#222" stroke-width="0.12" >50</text>
<text transform="translate(426.3,396.8) scale(0.95,1)" x="0" y="0" font-size="8.6" text-anchor="middle" fill="#222" stroke="#222" stroke-width="0.12" >75</text>
<text transform="translate(475.9,396.8) scale(0.95,1)" x="0" y="0" font-size="8.6" text-anchor="middle" fill="#222" stroke="#222" stroke-width="0.12" >100</text>
<text transform="translate(337.8,412.2) scale(1.0,1)" x="0" y="0" font-size="8.6" text-anchor="start" fill="#222" stroke="#222" stroke-width="0.12" >X-ray&#160;&#160;energy&#160;&#160;(keV)</text>
<text transform="translate(266.3,330.2) rotate(-90) scale(1.0,1)" x="0" y="0" font-size="8.6" text-anchor="middle" dominant-baseline="central" fill="#222"  >Number&#160;&#160;of&#160;&#160;x-rays</text>
</svg>
<div class="title"><span>Appendix E continued: Emission Spectra</span></div>

<div class="box" style="left:0;top:202px;width:246px;height:52px;">
<p style="top:2.5px;line-height:14.6px"><b>Change is mA:</b> The quantity of photons is<br>(shown by amplitude of curve) is directly<br>proportional to the mA</p>
</div>

<div class="box" style="left:252px;top:199px;width:243px;height:52px;">
<p style="top:3.5px;left:6px;line-height:14.05px">Added filtration: The quantity of photons<br>(amplitude) decreases, but the quality (peak<br>shifts to right) of photons increases.</p>
</div>

<div class="box" style="left:502px;top:222px;width:204px;height:123.5px;">
<p style="top:3px;left:6px;line-height:14.4px"><b>Spectrum of generator efficiency</b><br><br>An increase in the efficiency of the<br>generator increases the <b>quantity</b><br>and <b>quality</b> of x-rays produced, but<br>characteristic radiation remains<br>constant regardless of the generator.</p>
</div>

<div class="box" style="left:0;top:402px;width:248px;height:52px;">
<p style="top:2.5px;left:6px;line-height:14.3px"><b>Change in kVp:</b> A 15% change doubles<br>the OD.&#160; Both the shape and the amplitude of<br>the curve changes</p>
</div>

<div class="box" style="left:253px;top:421px;width:240px;height:66.5px;">
<p style="top:3.5px;left:5px;line-height:14.3px">Spectra of various target materials: A higher Z<br>number results in more and higher energy<br>characteristic photons.</p>
</div>
</body></html>
